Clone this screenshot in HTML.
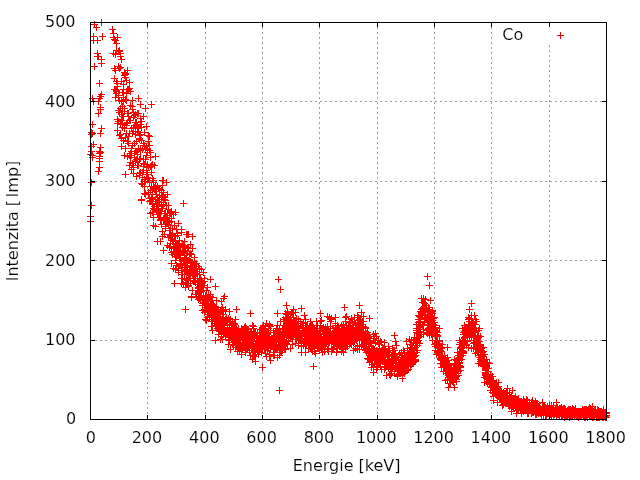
<!DOCTYPE html>
<html lang="cs"><head><meta charset="utf-8"><title>Co</title>
<style>
html,body{margin:0;padding:0;background:#fff;width:640px;height:480px;overflow:hidden}
svg{display:block;will-change:transform}
text{font-family:"DejaVu Sans","Liberation Sans",sans-serif;font-size:16px;fill:#000;stroke:#fff;stroke-width:0.15px}
</style></head><body>
<svg width="640" height="480" viewBox="0 0 640 480">
<rect width="640" height="480" fill="#fff"/>
<path d="M147.5 22V419M205.5 22V419M262.5 22V419M319.5 22V419M377.5 22V419M434.5 22V419M491.5 22V419M549.5 22V27M549.5 45V419M90 340.5H606M90 260.5H606M90 181.5H606M90 101.5H606" stroke="#a0a0a0" stroke-width="1" stroke-dasharray="2 3" fill="none" shape-rendering="crispEdges"/>
<path d="M91 24.5h7M94.5 21v7M93 27.5h7M96.5 24v7M98 22.5h7M101.5 19v7M90 36.5h7M93.5 33v7M99 36.5h7M102.5 33v7M90 40.5h7M93.5 37v7M94 40.5h7M97.5 37v7M94 53.5h7M97.5 50v7M94 56.5h7M97.5 53v7M95 56.5h7M98.5 53v7M98 59.5h7M101.5 56v7M98 63.5h7M101.5 60v7M91 66.5h7M94.5 63v7M96 83.5h7M99.5 80v7M98 94.5h7M101.5 91v7M97 96.5h7M100.5 93v7M96 98.5h7M99.5 95v7M95 101.5h7M98.5 98v7M89 98.5h7M92.5 95v7M90 101.5h7M93.5 98v7M97 107.5h7M100.5 104v7M97 109.5h7M100.5 106v7M95 113.5h7M98.5 110v7M89 124.5h7M92.5 121v7M98 128.5h7M101.5 125v7M97 133.5h7M100.5 130v7M88 132.5h7M91.5 129v7M89 133.5h7M92.5 130v7M88 134.5h7M91.5 131v7M90 144.5h7M93.5 141v7M88 146.5h7M91.5 143v7M97 147.5h7M100.5 144v7M96 151.5h7M99.5 148v7M97 152.5h7M100.5 149v7M96 153.5h7M99.5 150v7M88 151.5h7M91.5 148v7M87 154.5h7M90.5 151v7M89 155.5h7M92.5 152v7M96 156.5h7M99.5 153v7M96 158.5h7M99.5 155v7M96 161.5h7M99.5 158v7M96 167.5h7M99.5 164v7M89 157.5h7M92.5 154v7M95 171.5h7M98.5 168v7M88 182.5h7M91.5 179v7M88 205.5h7M91.5 202v7M87 216.5h7M90.5 213v7M87 221.5h7M90.5 218v7M109 29.5h7M112.5 26v7M110 33.5h7M113.5 30v7M110 37.5h7M113.5 34v7M110 53.5h7M113.5 50v7M111 89.5h7M114.5 86v7M111 78.5h7M114.5 75v7M111 68.5h7M114.5 65v7M111 39.5h7M114.5 36v7M112 97.5h7M115.5 94v7M112 54.5h7M115.5 51v7M112 70.5h7M115.5 67v7M112 40.5h7M115.5 37v7M112 89.5h7M115.5 86v7M112 54.5h7M115.5 51v7M113 93.5h7M116.5 90v7M113 91.5h7M116.5 88v7M113 90.5h7M116.5 87v7M113 50.5h7M116.5 47v7M113 81.5h7M116.5 78v7M113 43.5h7M116.5 40v7M114 83.5h7M117.5 80v7M114 119.5h7M117.5 116v7M114 123.5h7M117.5 120v7M114 86.5h7M117.5 83v7M114 130.5h7M117.5 127v7M114 37.5h7M117.5 34v7M115 97.5h7M118.5 94v7M115 66.5h7M118.5 63v7M115 110.5h7M118.5 107v7M115 51.5h7M118.5 48v7M115 121.5h7M118.5 118v7M115 95.5h7M118.5 92v7M116 100.5h7M119.5 97v7M116 51.5h7M119.5 48v7M116 135.5h7M119.5 132v7M116 50.5h7M119.5 47v7M116 112.5h7M119.5 109v7M116 68.5h7M119.5 65v7M117 108.5h7M120.5 105v7M117 56.5h7M120.5 53v7M117 124.5h7M120.5 121v7M117 53.5h7M120.5 50v7M117 134.5h7M120.5 131v7M117 67.5h7M120.5 64v7M118 114.5h7M121.5 111v7M118 81.5h7M121.5 78v7M118 120.5h7M121.5 117v7M118 101.5h7M121.5 98v7M118 138.5h7M121.5 135v7M118 59.5h7M121.5 56v7M119 124.5h7M122.5 121v7M119 92.5h7M122.5 89v7M119 127.5h7M122.5 124v7M119 106.5h7M122.5 103v7M119 116.5h7M122.5 113v7M119 108.5h7M122.5 105v7M120 140.5h7M123.5 137v7M120 101.5h7M123.5 98v7M120 97.5h7M123.5 94v7M120 89.5h7M123.5 86v7M120 116.5h7M123.5 113v7M120 84.5h7M123.5 81v7M121 128.5h7M124.5 125v7M121 108.5h7M124.5 105v7M121 111.5h7M124.5 108v7M121 75.5h7M124.5 72v7M121 155.5h7M124.5 152v7M121 72.5h7M124.5 69v7M122 137.5h7M125.5 134v7M122 74.5h7M125.5 71v7M122 148.5h7M125.5 145v7M122 73.5h7M125.5 70v7M122 99.5h7M125.5 96v7M122 77.5h7M125.5 74v7M123 125.5h7M126.5 122v7M123 80.5h7M126.5 77v7M123 123.5h7M126.5 120v7M123 100.5h7M126.5 97v7M123 133.5h7M126.5 130v7M123 93.5h7M126.5 90v7M124 141.5h7M127.5 138v7M124 70.5h7M127.5 67v7M124 156.5h7M127.5 153v7M124 89.5h7M127.5 86v7M124 113.5h7M127.5 110v7M124 122.5h7M127.5 119v7M125 136.5h7M128.5 133v7M125 89.5h7M128.5 86v7M125 116.5h7M128.5 113v7M125 89.5h7M128.5 86v7M125 143.5h7M128.5 140v7M125 113.5h7M128.5 110v7M126 133.5h7M129.5 130v7M126 82.5h7M129.5 79v7M126 155.5h7M129.5 152v7M126 120.5h7M129.5 117v7M126 165.5h7M129.5 162v7M126 88.5h7M129.5 85v7M127 162.5h7M130.5 159v7M127 120.5h7M130.5 117v7M127 157.5h7M130.5 154v7M127 105.5h7M130.5 102v7M127 153.5h7M130.5 150v7M127 91.5h7M130.5 88v7M128 169.5h7M131.5 166v7M128 128.5h7M131.5 125v7M128 151.5h7M131.5 148v7M128 155.5h7M131.5 152v7M128 148.5h7M131.5 145v7M128 128.5h7M131.5 125v7M129 133.5h7M132.5 130v7M129 100.5h7M132.5 97v7M129 145.5h7M132.5 142v7M129 109.5h7M132.5 106v7M129 163.5h7M132.5 160v7M129 106.5h7M132.5 103v7M130 131.5h7M133.5 128v7M130 127.5h7M133.5 124v7M130 173.5h7M133.5 170v7M130 117.5h7M133.5 114v7M130 167.5h7M133.5 164v7M130 112.5h7M133.5 109v7M131 125.5h7M134.5 122v7M131 125.5h7M134.5 122v7M131 143.5h7M134.5 140v7M131 115.5h7M134.5 112v7M131 157.5h7M134.5 154v7M131 153.5h7M134.5 150v7M132 161.5h7M135.5 158v7M132 114.5h7M135.5 111v7M132 151.5h7M135.5 148v7M132 122.5h7M135.5 119v7M132 134.5h7M135.5 131v7M132 128.5h7M135.5 125v7M133 159.5h7M136.5 156v7M133 122.5h7M136.5 119v7M133 176.5h7M136.5 173v7M133 141.5h7M136.5 138v7M133 151.5h7M136.5 148v7M133 125.5h7M136.5 122v7M134 165.5h7M137.5 162v7M134 113.5h7M137.5 110v7M134 158.5h7M137.5 155v7M134 126.5h7M137.5 123v7M134 154.5h7M137.5 151v7M134 131.5h7M137.5 128v7M135 165.5h7M138.5 162v7M135 113.5h7M138.5 110v7M135 149.5h7M138.5 146v7M135 132.5h7M138.5 129v7M135 148.5h7M138.5 145v7M135 128.5h7M138.5 125v7M136 159.5h7M139.5 156v7M136 135.5h7M139.5 132v7M136 175.5h7M139.5 172v7M136 139.5h7M139.5 136v7M136 173.5h7M139.5 170v7M136 138.5h7M139.5 135v7M137 148.5h7M140.5 145v7M137 124.5h7M140.5 121v7M137 150.5h7M140.5 147v7M137 134.5h7M140.5 131v7M137 172.5h7M140.5 169v7M137 118.5h7M140.5 115v7M137 158.5h7M140.5 155v7M138 140.5h7M141.5 137v7M138 183.5h7M141.5 180v7M138 127.5h7M141.5 124v7M138 200.5h7M141.5 197v7M138 121.5h7M141.5 118v7M138 199.5h7M141.5 196v7M139 149.5h7M142.5 146v7M139 177.5h7M142.5 174v7M139 149.5h7M142.5 146v7M139 172.5h7M142.5 169v7M139 148.5h7M142.5 145v7M139 184.5h7M142.5 181v7M140 143.5h7M143.5 140v7M140 166.5h7M143.5 163v7M140 159.5h7M143.5 156v7M140 163.5h7M143.5 160v7M140 116.5h7M143.5 113v7M140 170.5h7M143.5 167v7M141 132.5h7M144.5 129v7M141 186.5h7M144.5 183v7M141 145.5h7M144.5 142v7M141 179.5h7M144.5 176v7M141 164.5h7M144.5 161v7M141 193.5h7M144.5 190v7M142 108.5h7M145.5 105v7M142 193.5h7M145.5 190v7M142 149.5h7M145.5 146v7M142 181.5h7M145.5 178v7M142 159.5h7M145.5 156v7M142 194.5h7M145.5 191v7M143 155.5h7M146.5 152v7M143 167.5h7M146.5 164v7M143 126.5h7M146.5 123v7M143 174.5h7M146.5 171v7M143 146.5h7M146.5 143v7M143 170.5h7M146.5 167v7M144 174.5h7M147.5 171v7M144 178.5h7M147.5 175v7M144 148.5h7M147.5 145v7M144 152.5h7M147.5 149v7M144 164.5h7M147.5 161v7M144 177.5h7M147.5 174v7M145 141.5h7M148.5 138v7M145 192.5h7M148.5 189v7M145 178.5h7M148.5 175v7M145 194.5h7M148.5 191v7M145 135.5h7M148.5 132v7M145 167.5h7M148.5 164v7M146 145.5h7M149.5 142v7M146 198.5h7M149.5 195v7M146 150.5h7M149.5 147v7M146 201.5h7M149.5 198v7M146 136.5h7M149.5 133v7M146 182.5h7M149.5 179v7M147 152.5h7M150.5 149v7M147 190.5h7M150.5 187v7M147 166.5h7M150.5 163v7M147 213.5h7M150.5 210v7M147 157.5h7M150.5 154v7M147 200.5h7M150.5 197v7M148 172.5h7M151.5 169v7M148 201.5h7M151.5 198v7M148 166.5h7M151.5 163v7M148 198.5h7M151.5 195v7M148 165.5h7M151.5 162v7M148 186.5h7M151.5 183v7M149 164.5h7M152.5 161v7M149 197.5h7M152.5 194v7M149 178.5h7M152.5 175v7M149 204.5h7M152.5 201v7M149 190.5h7M152.5 187v7M149 212.5h7M152.5 209v7M150 180.5h7M153.5 177v7M150 208.5h7M153.5 205v7M150 180.5h7M153.5 177v7M150 217.5h7M153.5 214v7M150 182.5h7M153.5 179v7M150 225.5h7M153.5 222v7M151 165.5h7M154.5 162v7M151 206.5h7M154.5 203v7M151 209.5h7M154.5 206v7M151 189.5h7M154.5 186v7M151 187.5h7M154.5 184v7M151 209.5h7M154.5 206v7M152 191.5h7M155.5 188v7M152 226.5h7M155.5 223v7M152 156.5h7M155.5 153v7M152 199.5h7M155.5 196v7M152 186.5h7M155.5 183v7M152 201.5h7M155.5 198v7M153 188.5h7M156.5 185v7M153 203.5h7M156.5 200v7M153 206.5h7M156.5 203v7M153 194.5h7M156.5 191v7M153 191.5h7M156.5 188v7M153 211.5h7M156.5 208v7M154 199.5h7M157.5 196v7M154 201.5h7M157.5 198v7M154 214.5h7M157.5 211v7M154 186.5h7M157.5 183v7M154 206.5h7M157.5 203v7M154 241.5h7M157.5 238v7M155 209.5h7M158.5 206v7M155 188.5h7M158.5 185v7M155 212.5h7M158.5 209v7M155 210.5h7M158.5 207v7M155 201.5h7M158.5 198v7M155 217.5h7M158.5 214v7M156 189.5h7M159.5 186v7M156 199.5h7M159.5 196v7M156 188.5h7M159.5 185v7M156 195.5h7M159.5 192v7M156 202.5h7M159.5 199v7M156 213.5h7M159.5 210v7M156 217.5h7M159.5 214v7M157 241.5h7M160.5 238v7M157 219.5h7M160.5 216v7M157 219.5h7M160.5 216v7M157 211.5h7M160.5 208v7M157 220.5h7M160.5 217v7M157 213.5h7M160.5 210v7M158 205.5h7M161.5 202v7M158 211.5h7M161.5 208v7M158 224.5h7M161.5 221v7M158 206.5h7M161.5 203v7M158 190.5h7M161.5 187v7M158 197.5h7M161.5 194v7M159 208.5h7M162.5 205v7M159 185.5h7M162.5 182v7M159 236.5h7M162.5 233v7M159 180.5h7M162.5 177v7M159 195.5h7M162.5 192v7M159 231.5h7M162.5 228v7M160 218.5h7M163.5 215v7M160 197.5h7M163.5 194v7M160 204.5h7M163.5 201v7M160 196.5h7M163.5 193v7M160 219.5h7M163.5 216v7M160 180.5h7M163.5 177v7M160 192.5h7M163.5 189v7M161 213.5h7M164.5 210v7M161 219.5h7M164.5 216v7M161 213.5h7M164.5 210v7M161 234.5h7M164.5 231v7M161 199.5h7M164.5 196v7M161 213.5h7M164.5 210v7M162 220.5h7M165.5 217v7M162 228.5h7M165.5 225v7M162 200.5h7M165.5 197v7M162 226.5h7M165.5 223v7M162 224.5h7M165.5 221v7M162 213.5h7M165.5 210v7M163 220.5h7M166.5 217v7M163 217.5h7M166.5 214v7M163 218.5h7M166.5 215v7M163 217.5h7M166.5 214v7M163 205.5h7M166.5 202v7M163 182.5h7M166.5 179v7M163 223.5h7M166.5 220v7M164 194.5h7M167.5 191v7M164 213.5h7M167.5 210v7M164 215.5h7M167.5 212v7M164 221.5h7M167.5 218v7M164 245.5h7M167.5 242v7M164 222.5h7M167.5 219v7M165 225.5h7M168.5 222v7M165 209.5h7M168.5 206v7M165 205.5h7M168.5 202v7M165 237.5h7M168.5 234v7M165 220.5h7M168.5 217v7M165 224.5h7M168.5 221v7M166 246.5h7M169.5 243v7M166 213.5h7M169.5 210v7M166 222.5h7M169.5 219v7M166 230.5h7M169.5 227v7M166 222.5h7M169.5 219v7M166 247.5h7M169.5 244v7M166 221.5h7M169.5 218v7M167 213.5h7M170.5 210v7M167 243.5h7M170.5 240v7M167 236.5h7M170.5 233v7M167 235.5h7M170.5 232v7M167 228.5h7M170.5 225v7M167 234.5h7M170.5 231v7M168 221.5h7M171.5 218v7M168 218.5h7M171.5 215v7M168 238.5h7M171.5 235v7M168 211.5h7M171.5 208v7M168 252.5h7M171.5 249v7M168 263.5h7M171.5 260v7M168 235.5h7M171.5 232v7M169 254.5h7M172.5 251v7M169 240.5h7M172.5 237v7M169 235.5h7M172.5 232v7M169 236.5h7M172.5 233v7M169 228.5h7M172.5 225v7M169 233.5h7M172.5 230v7M170 243.5h7M173.5 240v7M170 241.5h7M173.5 238v7M170 246.5h7M173.5 243v7M170 268.5h7M173.5 265v7M170 248.5h7M173.5 245v7M170 251.5h7M173.5 248v7M170 214.5h7M173.5 211v7M171 247.5h7M174.5 244v7M171 253.5h7M174.5 250v7M171 254.5h7M174.5 251v7M171 252.5h7M174.5 249v7M171 225.5h7M174.5 222v7M171 236.5h7M174.5 233v7M172 251.5h7M175.5 248v7M172 269.5h7M175.5 266v7M172 244.5h7M175.5 241v7M172 236.5h7M175.5 233v7M172 212.5h7M175.5 209v7M172 244.5h7M175.5 241v7M172 260.5h7M175.5 257v7M173 256.5h7M176.5 253v7M173 265.5h7M176.5 262v7M173 229.5h7M176.5 226v7M173 265.5h7M176.5 262v7M173 247.5h7M176.5 244v7M173 253.5h7M176.5 250v7M173 245.5h7M176.5 242v7M174 255.5h7M177.5 252v7M174 233.5h7M177.5 230v7M174 244.5h7M177.5 241v7M174 235.5h7M177.5 232v7M174 251.5h7M177.5 248v7M174 247.5h7M177.5 244v7M175 223.5h7M178.5 220v7M175 266.5h7M178.5 263v7M175 272.5h7M178.5 269v7M175 250.5h7M178.5 247v7M175 270.5h7M178.5 267v7M175 243.5h7M178.5 240v7M175 268.5h7M178.5 265v7M176 250.5h7M179.5 247v7M176 240.5h7M179.5 237v7M176 254.5h7M179.5 251v7M176 253.5h7M179.5 250v7M176 247.5h7M179.5 244v7M176 258.5h7M179.5 255v7M177 246.5h7M180.5 243v7M177 251.5h7M180.5 248v7M177 255.5h7M180.5 252v7M177 257.5h7M180.5 254v7M177 264.5h7M180.5 261v7M177 263.5h7M180.5 260v7M177 260.5h7M180.5 257v7M178 232.5h7M181.5 229v7M178 278.5h7M181.5 275v7M178 283.5h7M181.5 280v7M178 270.5h7M181.5 267v7M178 265.5h7M181.5 262v7M178 264.5h7M181.5 261v7M178 229.5h7M181.5 226v7M179 244.5h7M182.5 241v7M179 267.5h7M182.5 264v7M179 267.5h7M182.5 264v7M179 278.5h7M182.5 275v7M179 251.5h7M182.5 248v7M179 274.5h7M182.5 271v7M179 267.5h7M182.5 264v7M180 252.5h7M183.5 249v7M180 284.5h7M183.5 281v7M180 251.5h7M183.5 248v7M180 246.5h7M183.5 243v7M180 245.5h7M183.5 242v7M180 247.5h7M183.5 244v7M181 255.5h7M184.5 252v7M181 270.5h7M184.5 267v7M181 259.5h7M184.5 256v7M181 241.5h7M184.5 238v7M181 274.5h7M184.5 271v7M181 251.5h7M184.5 248v7M181 263.5h7M184.5 260v7M182 258.5h7M185.5 255v7M182 282.5h7M185.5 279v7M182 248.5h7M185.5 245v7M182 287.5h7M185.5 284v7M182 267.5h7M185.5 264v7M182 261.5h7M185.5 258v7M182 269.5h7M185.5 266v7M183 260.5h7M186.5 257v7M183 257.5h7M186.5 254v7M183 253.5h7M186.5 250v7M183 234.5h7M186.5 231v7M183 279.5h7M186.5 276v7M183 271.5h7M186.5 268v7M183 262.5h7M186.5 259v7M184 283.5h7M187.5 280v7M184 251.5h7M187.5 248v7M184 280.5h7M187.5 277v7M184 267.5h7M187.5 264v7M184 266.5h7M187.5 263v7M184 269.5h7M187.5 266v7M184 247.5h7M187.5 244v7M185 278.5h7M188.5 275v7M185 285.5h7M188.5 282v7M185 248.5h7M188.5 245v7M185 274.5h7M188.5 271v7M185 273.5h7M188.5 270v7M185 286.5h7M188.5 283v7M185 286.5h7M188.5 283v7M186 274.5h7M189.5 271v7M186 275.5h7M189.5 272v7M186 271.5h7M189.5 268v7M186 259.5h7M189.5 256v7M186 254.5h7M189.5 251v7M186 273.5h7M189.5 270v7M187 261.5h7M190.5 258v7M187 267.5h7M190.5 264v7M187 244.5h7M190.5 241v7M187 273.5h7M190.5 270v7M187 283.5h7M190.5 280v7M187 280.5h7M190.5 277v7M187 253.5h7M190.5 250v7M188 263.5h7M191.5 260v7M188 297.5h7M191.5 294v7M188 270.5h7M191.5 267v7M188 270.5h7M191.5 267v7M188 265.5h7M191.5 262v7M188 296.5h7M191.5 293v7M188 254.5h7M191.5 251v7M189 269.5h7M192.5 266v7M189 248.5h7M192.5 245v7M189 274.5h7M192.5 271v7M189 263.5h7M192.5 260v7M189 290.5h7M192.5 287v7M189 236.5h7M192.5 233v7M189 262.5h7M192.5 259v7M190 273.5h7M193.5 270v7M190 266.5h7M193.5 263v7M190 265.5h7M193.5 262v7M190 274.5h7M193.5 271v7M190 273.5h7M193.5 270v7M190 281.5h7M193.5 278v7M190 274.5h7M193.5 271v7M191 261.5h7M194.5 258v7M191 278.5h7M194.5 275v7M191 257.5h7M194.5 254v7M191 272.5h7M194.5 269v7M191 269.5h7M194.5 266v7M191 270.5h7M194.5 267v7M191 280.5h7M194.5 277v7M192 282.5h7M195.5 279v7M192 269.5h7M195.5 266v7M192 264.5h7M195.5 261v7M192 281.5h7M195.5 278v7M192 294.5h7M195.5 291v7M192 274.5h7M195.5 271v7M192 278.5h7M195.5 275v7M193 269.5h7M196.5 266v7M193 268.5h7M196.5 265v7M193 294.5h7M196.5 291v7M193 273.5h7M196.5 270v7M193 263.5h7M196.5 260v7M193 269.5h7M196.5 266v7M193 271.5h7M196.5 268v7M194 284.5h7M197.5 281v7M194 278.5h7M197.5 275v7M194 274.5h7M197.5 271v7M194 282.5h7M197.5 279v7M194 284.5h7M197.5 281v7M194 281.5h7M197.5 278v7M194 290.5h7M197.5 287v7M195 299.5h7M198.5 296v7M195 266.5h7M198.5 263v7M195 297.5h7M198.5 294v7M195 296.5h7M198.5 293v7M195 282.5h7M198.5 279v7M195 288.5h7M198.5 285v7M195 287.5h7M198.5 284v7M195 297.5h7M198.5 294v7M196 286.5h7M199.5 283v7M196 274.5h7M199.5 271v7M196 298.5h7M199.5 295v7M196 282.5h7M199.5 279v7M196 282.5h7M199.5 279v7M196 290.5h7M199.5 287v7M196 268.5h7M199.5 265v7M197 290.5h7M200.5 287v7M197 282.5h7M200.5 279v7M197 278.5h7M200.5 275v7M197 283.5h7M200.5 280v7M197 290.5h7M200.5 287v7M197 292.5h7M200.5 289v7M197 300.5h7M200.5 297v7M198 291.5h7M201.5 288v7M198 280.5h7M201.5 277v7M198 269.5h7M201.5 266v7M198 286.5h7M201.5 283v7M198 281.5h7M201.5 278v7M198 284.5h7M201.5 281v7M198 281.5h7M201.5 278v7M199 287.5h7M202.5 284v7M199 298.5h7M202.5 295v7M199 305.5h7M202.5 302v7M199 298.5h7M202.5 295v7M199 282.5h7M202.5 279v7M199 303.5h7M202.5 300v7M199 310.5h7M202.5 307v7M200 272.5h7M203.5 269v7M200 287.5h7M203.5 284v7M200 295.5h7M203.5 292v7M200 298.5h7M203.5 295v7M200 296.5h7M203.5 293v7M200 302.5h7M203.5 299v7M200 285.5h7M203.5 282v7M201 299.5h7M204.5 296v7M201 312.5h7M204.5 309v7M201 302.5h7M204.5 299v7M201 281.5h7M204.5 278v7M201 310.5h7M204.5 307v7M201 310.5h7M204.5 307v7M201 278.5h7M204.5 275v7M201 309.5h7M204.5 306v7M202 295.5h7M205.5 292v7M202 307.5h7M205.5 304v7M202 301.5h7M205.5 298v7M202 301.5h7M205.5 298v7M202 319.5h7M205.5 316v7M202 309.5h7M205.5 306v7M202 311.5h7M205.5 308v7M203 290.5h7M206.5 287v7M203 307.5h7M206.5 304v7M203 304.5h7M206.5 301v7M203 305.5h7M206.5 302v7M203 320.5h7M206.5 317v7M203 303.5h7M206.5 300v7M203 299.5h7M206.5 296v7M204 317.5h7M207.5 314v7M204 309.5h7M207.5 306v7M204 298.5h7M207.5 295v7M204 309.5h7M207.5 306v7M204 287.5h7M207.5 284v7M204 309.5h7M207.5 306v7M204 301.5h7M207.5 298v7M204 309.5h7M207.5 306v7M205 294.5h7M208.5 291v7M205 309.5h7M208.5 306v7M205 301.5h7M208.5 298v7M205 309.5h7M208.5 306v7M205 301.5h7M208.5 298v7M205 307.5h7M208.5 304v7M205 305.5h7M208.5 302v7M206 314.5h7M209.5 311v7M206 316.5h7M209.5 313v7M206 309.5h7M209.5 306v7M206 311.5h7M209.5 308v7M206 298.5h7M209.5 295v7M206 309.5h7M209.5 306v7M206 306.5h7M209.5 303v7M207 296.5h7M210.5 293v7M207 313.5h7M210.5 310v7M207 294.5h7M210.5 291v7M207 304.5h7M210.5 301v7M207 309.5h7M210.5 306v7M207 309.5h7M210.5 306v7M207 309.5h7M210.5 306v7M207 301.5h7M210.5 298v7M208 321.5h7M211.5 318v7M208 313.5h7M211.5 310v7M208 305.5h7M211.5 302v7M208 313.5h7M211.5 310v7M208 300.5h7M211.5 297v7M208 326.5h7M211.5 323v7M208 315.5h7M211.5 312v7M209 297.5h7M212.5 294v7M209 307.5h7M212.5 304v7M209 319.5h7M212.5 316v7M209 304.5h7M212.5 301v7M209 321.5h7M212.5 318v7M209 315.5h7M212.5 312v7M209 330.5h7M212.5 327v7M210 313.5h7M213.5 310v7M210 315.5h7M213.5 312v7M210 316.5h7M213.5 313v7M210 313.5h7M213.5 310v7M210 304.5h7M213.5 301v7M210 314.5h7M213.5 311v7M210 305.5h7M213.5 302v7M210 304.5h7M213.5 301v7M211 307.5h7M214.5 304v7M211 308.5h7M214.5 305v7M211 321.5h7M214.5 318v7M211 317.5h7M214.5 314v7M211 310.5h7M214.5 307v7M211 306.5h7M214.5 303v7M211 311.5h7M214.5 308v7M212 340.5h7M215.5 337v7M212 321.5h7M215.5 318v7M212 325.5h7M215.5 322v7M212 320.5h7M215.5 317v7M212 315.5h7M215.5 312v7M212 323.5h7M215.5 320v7M212 309.5h7M215.5 306v7M212 314.5h7M215.5 311v7M213 318.5h7M216.5 315v7M213 316.5h7M216.5 313v7M213 323.5h7M216.5 320v7M213 309.5h7M216.5 306v7M213 325.5h7M216.5 322v7M213 317.5h7M216.5 314v7M213 300.5h7M216.5 297v7M214 320.5h7M217.5 317v7M214 328.5h7M217.5 325v7M214 310.5h7M217.5 307v7M214 313.5h7M217.5 310v7M214 326.5h7M217.5 323v7M214 313.5h7M217.5 310v7M214 320.5h7M217.5 317v7M214 326.5h7M217.5 323v7M215 321.5h7M218.5 318v7M215 329.5h7M218.5 326v7M215 328.5h7M218.5 325v7M215 329.5h7M218.5 326v7M215 328.5h7M218.5 325v7M215 309.5h7M218.5 306v7M215 334.5h7M218.5 331v7M216 321.5h7M219.5 318v7M216 313.5h7M219.5 310v7M216 321.5h7M219.5 318v7M216 322.5h7M219.5 319v7M216 331.5h7M219.5 328v7M216 328.5h7M219.5 325v7M216 313.5h7M219.5 310v7M216 330.5h7M219.5 327v7M217 327.5h7M220.5 324v7M217 325.5h7M220.5 322v7M217 311.5h7M220.5 308v7M217 324.5h7M220.5 321v7M217 339.5h7M220.5 336v7M217 318.5h7M220.5 315v7M217 328.5h7M220.5 325v7M218 325.5h7M221.5 322v7M218 336.5h7M221.5 333v7M218 309.5h7M221.5 306v7M218 331.5h7M221.5 328v7M218 325.5h7M221.5 322v7M218 301.5h7M221.5 298v7M218 328.5h7M221.5 325v7M218 319.5h7M221.5 316v7M219 314.5h7M222.5 311v7M219 328.5h7M222.5 325v7M219 309.5h7M222.5 306v7M219 328.5h7M222.5 325v7M219 307.5h7M222.5 304v7M219 339.5h7M222.5 336v7M219 321.5h7M222.5 318v7M220 324.5h7M223.5 321v7M220 310.5h7M223.5 307v7M220 334.5h7M223.5 331v7M220 333.5h7M223.5 330v7M220 298.5h7M223.5 295v7M220 332.5h7M223.5 329v7M220 317.5h7M223.5 314v7M220 324.5h7M223.5 321v7M221 321.5h7M224.5 318v7M221 329.5h7M224.5 326v7M221 332.5h7M224.5 329v7M221 331.5h7M224.5 328v7M221 328.5h7M224.5 325v7M221 331.5h7M224.5 328v7M221 332.5h7M224.5 329v7M222 309.5h7M225.5 306v7M222 319.5h7M225.5 316v7M222 322.5h7M225.5 319v7M222 334.5h7M225.5 331v7M222 336.5h7M225.5 333v7M222 330.5h7M225.5 327v7M222 321.5h7M225.5 318v7M222 311.5h7M225.5 308v7M223 334.5h7M226.5 331v7M223 317.5h7M226.5 314v7M223 333.5h7M226.5 330v7M223 320.5h7M226.5 317v7M223 321.5h7M226.5 318v7M223 331.5h7M226.5 328v7M223 332.5h7M226.5 329v7M224 327.5h7M227.5 324v7M224 329.5h7M227.5 326v7M224 329.5h7M227.5 326v7M224 330.5h7M227.5 327v7M224 322.5h7M227.5 319v7M224 325.5h7M227.5 322v7M224 330.5h7M227.5 327v7M224 322.5h7M227.5 319v7M225 318.5h7M228.5 315v7M225 335.5h7M228.5 332v7M225 336.5h7M228.5 333v7M225 339.5h7M228.5 336v7M225 344.5h7M228.5 341v7M225 334.5h7M228.5 331v7M225 337.5h7M228.5 334v7M226 325.5h7M229.5 322v7M226 330.5h7M229.5 327v7M226 331.5h7M229.5 328v7M226 339.5h7M229.5 336v7M226 328.5h7M229.5 325v7M226 311.5h7M229.5 308v7M226 340.5h7M229.5 337v7M226 325.5h7M229.5 322v7M227 319.5h7M230.5 316v7M227 332.5h7M230.5 329v7M227 319.5h7M230.5 316v7M227 331.5h7M230.5 328v7M227 332.5h7M230.5 329v7M227 321.5h7M230.5 318v7M227 349.5h7M230.5 346v7M228 335.5h7M231.5 332v7M228 339.5h7M231.5 336v7M228 325.5h7M231.5 322v7M228 339.5h7M231.5 336v7M228 324.5h7M231.5 321v7M228 325.5h7M231.5 322v7M228 339.5h7M231.5 336v7M228 330.5h7M231.5 327v7M229 323.5h7M232.5 320v7M229 328.5h7M232.5 325v7M229 337.5h7M232.5 334v7M229 322.5h7M232.5 319v7M229 321.5h7M232.5 318v7M229 344.5h7M232.5 341v7M229 340.5h7M232.5 337v7M230 335.5h7M233.5 332v7M230 328.5h7M233.5 325v7M230 345.5h7M233.5 342v7M230 325.5h7M233.5 322v7M230 338.5h7M233.5 335v7M230 344.5h7M233.5 341v7M230 342.5h7M233.5 339v7M230 338.5h7M233.5 335v7M231 336.5h7M234.5 333v7M231 324.5h7M234.5 321v7M231 323.5h7M234.5 320v7M231 328.5h7M234.5 325v7M231 333.5h7M234.5 330v7M231 328.5h7M234.5 325v7M231 327.5h7M234.5 324v7M232 342.5h7M235.5 339v7M232 334.5h7M235.5 331v7M232 328.5h7M235.5 325v7M232 343.5h7M235.5 340v7M232 347.5h7M235.5 344v7M232 343.5h7M235.5 340v7M232 319.5h7M235.5 316v7M232 335.5h7M235.5 332v7M233 332.5h7M236.5 329v7M233 340.5h7M236.5 337v7M233 344.5h7M236.5 341v7M233 333.5h7M236.5 330v7M233 339.5h7M236.5 336v7M233 334.5h7M236.5 331v7M233 328.5h7M236.5 325v7M234 332.5h7M237.5 329v7M234 334.5h7M237.5 331v7M234 351.5h7M237.5 348v7M234 337.5h7M237.5 334v7M234 330.5h7M237.5 327v7M234 341.5h7M237.5 338v7M234 344.5h7M237.5 341v7M234 339.5h7M237.5 336v7M235 340.5h7M238.5 337v7M235 345.5h7M238.5 342v7M235 328.5h7M238.5 325v7M235 330.5h7M238.5 327v7M235 332.5h7M238.5 329v7M235 342.5h7M238.5 339v7M235 344.5h7M238.5 341v7M236 348.5h7M239.5 345v7M236 351.5h7M239.5 348v7M236 331.5h7M239.5 328v7M236 333.5h7M239.5 330v7M236 335.5h7M239.5 332v7M236 332.5h7M239.5 329v7M236 344.5h7M239.5 341v7M236 349.5h7M239.5 346v7M237 334.5h7M240.5 331v7M237 340.5h7M240.5 337v7M237 345.5h7M240.5 342v7M237 336.5h7M240.5 333v7M237 332.5h7M240.5 329v7M237 334.5h7M240.5 331v7M237 335.5h7M240.5 332v7M238 350.5h7M241.5 347v7M238 331.5h7M241.5 328v7M238 332.5h7M241.5 329v7M238 349.5h7M241.5 346v7M238 333.5h7M241.5 330v7M238 335.5h7M241.5 332v7M238 354.5h7M241.5 351v7M238 328.5h7M241.5 325v7M239 329.5h7M242.5 326v7M239 336.5h7M242.5 333v7M239 332.5h7M242.5 329v7M239 339.5h7M242.5 336v7M239 335.5h7M242.5 332v7M239 347.5h7M242.5 344v7M239 333.5h7M242.5 330v7M240 340.5h7M243.5 337v7M240 340.5h7M243.5 337v7M240 339.5h7M243.5 336v7M240 342.5h7M243.5 339v7M240 336.5h7M243.5 333v7M240 343.5h7M243.5 340v7M240 334.5h7M243.5 331v7M240 337.5h7M243.5 334v7M241 332.5h7M244.5 329v7M241 340.5h7M244.5 337v7M241 334.5h7M244.5 331v7M241 343.5h7M244.5 340v7M241 327.5h7M244.5 324v7M241 330.5h7M244.5 327v7M241 333.5h7M244.5 330v7M242 349.5h7M245.5 346v7M242 337.5h7M245.5 334v7M242 333.5h7M245.5 330v7M242 343.5h7M245.5 340v7M242 352.5h7M245.5 349v7M242 343.5h7M245.5 340v7M242 344.5h7M245.5 341v7M242 326.5h7M245.5 323v7M243 329.5h7M246.5 326v7M243 335.5h7M246.5 332v7M243 339.5h7M246.5 336v7M243 343.5h7M246.5 340v7M243 328.5h7M246.5 325v7M243 332.5h7M246.5 329v7M243 348.5h7M246.5 345v7M244 338.5h7M247.5 335v7M244 346.5h7M247.5 343v7M244 344.5h7M247.5 341v7M244 337.5h7M247.5 334v7M244 344.5h7M247.5 341v7M244 348.5h7M247.5 345v7M244 341.5h7M247.5 338v7M244 340.5h7M247.5 337v7M245 329.5h7M248.5 326v7M245 347.5h7M248.5 344v7M245 336.5h7M248.5 333v7M245 344.5h7M248.5 341v7M245 345.5h7M248.5 342v7M245 332.5h7M248.5 329v7M245 338.5h7M248.5 335v7M246 336.5h7M249.5 333v7M246 335.5h7M249.5 332v7M246 339.5h7M249.5 336v7M246 336.5h7M249.5 333v7M246 352.5h7M249.5 349v7M246 352.5h7M249.5 349v7M246 334.5h7M249.5 331v7M246 343.5h7M249.5 340v7M247 331.5h7M250.5 328v7M247 344.5h7M250.5 341v7M247 336.5h7M250.5 333v7M247 336.5h7M250.5 333v7M247 334.5h7M250.5 331v7M247 355.5h7M250.5 352v7M247 334.5h7M250.5 331v7M248 346.5h7M251.5 343v7M248 340.5h7M251.5 337v7M248 335.5h7M251.5 332v7M248 332.5h7M251.5 329v7M248 341.5h7M251.5 338v7M248 334.5h7M251.5 331v7M248 336.5h7M251.5 333v7M248 331.5h7M251.5 328v7M249 325.5h7M252.5 322v7M249 335.5h7M252.5 332v7M249 343.5h7M252.5 340v7M249 359.5h7M252.5 356v7M249 352.5h7M252.5 349v7M249 348.5h7M252.5 345v7M249 345.5h7M252.5 342v7M250 326.5h7M253.5 323v7M250 337.5h7M253.5 334v7M250 332.5h7M253.5 329v7M250 355.5h7M253.5 352v7M250 350.5h7M253.5 347v7M250 328.5h7M253.5 325v7M250 343.5h7M253.5 340v7M250 335.5h7M253.5 332v7M251 332.5h7M254.5 329v7M251 346.5h7M254.5 343v7M251 351.5h7M254.5 348v7M251 356.5h7M254.5 353v7M251 336.5h7M254.5 333v7M251 336.5h7M254.5 333v7M251 332.5h7M254.5 329v7M252 332.5h7M255.5 329v7M252 361.5h7M255.5 358v7M252 344.5h7M255.5 341v7M252 350.5h7M255.5 347v7M252 335.5h7M255.5 332v7M252 335.5h7M255.5 332v7M252 352.5h7M255.5 349v7M252 356.5h7M255.5 353v7M253 344.5h7M256.5 341v7M253 347.5h7M256.5 344v7M253 337.5h7M256.5 334v7M253 349.5h7M256.5 346v7M253 343.5h7M256.5 340v7M253 347.5h7M256.5 344v7M253 344.5h7M256.5 341v7M254 343.5h7M257.5 340v7M254 337.5h7M257.5 334v7M254 351.5h7M257.5 348v7M254 340.5h7M257.5 337v7M254 343.5h7M257.5 340v7M254 344.5h7M257.5 341v7M254 332.5h7M257.5 329v7M254 332.5h7M257.5 329v7M255 347.5h7M258.5 344v7M255 345.5h7M258.5 342v7M255 345.5h7M258.5 342v7M255 340.5h7M258.5 337v7M255 348.5h7M258.5 345v7M255 348.5h7M258.5 345v7M255 354.5h7M258.5 351v7M256 351.5h7M259.5 348v7M256 339.5h7M259.5 336v7M256 344.5h7M259.5 341v7M256 341.5h7M259.5 338v7M256 335.5h7M259.5 332v7M256 333.5h7M259.5 330v7M256 338.5h7M259.5 335v7M256 343.5h7M259.5 340v7M257 335.5h7M260.5 332v7M257 349.5h7M260.5 346v7M257 340.5h7M260.5 337v7M257 333.5h7M260.5 330v7M257 329.5h7M260.5 326v7M257 335.5h7M260.5 332v7M257 342.5h7M260.5 339v7M258 336.5h7M261.5 333v7M258 352.5h7M261.5 349v7M258 338.5h7M261.5 335v7M258 329.5h7M261.5 326v7M258 348.5h7M261.5 345v7M258 336.5h7M261.5 333v7M258 342.5h7M261.5 339v7M258 340.5h7M261.5 337v7M259 335.5h7M262.5 332v7M259 337.5h7M262.5 334v7M259 327.5h7M262.5 324v7M259 328.5h7M262.5 325v7M259 340.5h7M262.5 337v7M259 346.5h7M262.5 343v7M259 349.5h7M262.5 346v7M260 342.5h7M263.5 339v7M260 345.5h7M263.5 342v7M260 340.5h7M263.5 337v7M260 340.5h7M263.5 337v7M260 340.5h7M263.5 337v7M260 345.5h7M263.5 342v7M260 325.5h7M263.5 322v7M260 332.5h7M263.5 329v7M261 334.5h7M264.5 331v7M261 330.5h7M264.5 327v7M261 344.5h7M264.5 341v7M261 349.5h7M264.5 346v7M261 348.5h7M264.5 345v7M261 335.5h7M264.5 332v7M261 336.5h7M264.5 333v7M262 353.5h7M265.5 350v7M262 326.5h7M265.5 323v7M262 329.5h7M265.5 326v7M262 331.5h7M265.5 328v7M262 340.5h7M265.5 337v7M262 337.5h7M265.5 334v7M262 338.5h7M265.5 335v7M262 341.5h7M265.5 338v7M263 333.5h7M266.5 330v7M263 356.5h7M266.5 353v7M263 342.5h7M266.5 339v7M263 332.5h7M266.5 329v7M263 344.5h7M266.5 341v7M263 323.5h7M266.5 320v7M263 340.5h7M266.5 337v7M264 334.5h7M267.5 331v7M264 344.5h7M267.5 341v7M264 332.5h7M267.5 329v7M264 339.5h7M267.5 336v7M264 336.5h7M267.5 333v7M264 350.5h7M267.5 347v7M264 347.5h7M267.5 344v7M264 343.5h7M267.5 340v7M265 328.5h7M268.5 325v7M265 344.5h7M268.5 341v7M265 332.5h7M268.5 329v7M265 340.5h7M268.5 337v7M265 342.5h7M268.5 339v7M265 348.5h7M268.5 345v7M265 344.5h7M268.5 341v7M266 344.5h7M269.5 341v7M266 354.5h7M269.5 351v7M266 338.5h7M269.5 335v7M266 343.5h7M269.5 340v7M266 339.5h7M269.5 336v7M266 356.5h7M269.5 353v7M266 324.5h7M269.5 321v7M266 325.5h7M269.5 322v7M267 344.5h7M270.5 341v7M267 326.5h7M270.5 323v7M267 348.5h7M270.5 345v7M267 341.5h7M270.5 338v7M267 330.5h7M270.5 327v7M267 360.5h7M270.5 357v7M267 339.5h7M270.5 336v7M268 342.5h7M271.5 339v7M268 338.5h7M271.5 335v7M268 345.5h7M271.5 342v7M268 341.5h7M271.5 338v7M268 345.5h7M271.5 342v7M268 342.5h7M271.5 339v7M268 342.5h7M271.5 339v7M268 342.5h7M271.5 339v7M269 345.5h7M272.5 342v7M269 340.5h7M272.5 337v7M269 345.5h7M272.5 342v7M269 345.5h7M272.5 342v7M269 339.5h7M272.5 336v7M269 339.5h7M272.5 336v7M269 343.5h7M272.5 340v7M270 342.5h7M273.5 339v7M270 332.5h7M273.5 329v7M270 349.5h7M273.5 346v7M270 339.5h7M273.5 336v7M270 344.5h7M273.5 341v7M270 352.5h7M273.5 349v7M270 355.5h7M273.5 352v7M270 352.5h7M273.5 349v7M271 345.5h7M274.5 342v7M271 355.5h7M274.5 352v7M271 337.5h7M274.5 334v7M271 336.5h7M274.5 333v7M271 336.5h7M274.5 333v7M271 335.5h7M274.5 332v7M271 348.5h7M274.5 345v7M272 348.5h7M275.5 345v7M272 346.5h7M275.5 343v7M272 332.5h7M275.5 329v7M272 342.5h7M275.5 339v7M272 332.5h7M275.5 329v7M272 342.5h7M275.5 339v7M272 336.5h7M275.5 333v7M272 340.5h7M275.5 337v7M273 331.5h7M276.5 328v7M273 341.5h7M276.5 338v7M273 344.5h7M276.5 341v7M273 328.5h7M276.5 325v7M273 332.5h7M276.5 329v7M273 344.5h7M276.5 341v7M273 348.5h7M276.5 345v7M274 349.5h7M277.5 346v7M274 313.5h7M277.5 310v7M274 357.5h7M277.5 354v7M274 325.5h7M277.5 322v7M274 336.5h7M277.5 333v7M274 348.5h7M277.5 345v7M274 336.5h7M277.5 333v7M274 330.5h7M277.5 327v7M275 347.5h7M278.5 344v7M275 336.5h7M278.5 333v7M275 344.5h7M278.5 341v7M275 341.5h7M278.5 338v7M275 340.5h7M278.5 337v7M275 337.5h7M278.5 334v7M275 340.5h7M278.5 337v7M276 340.5h7M279.5 337v7M276 348.5h7M279.5 345v7M276 329.5h7M279.5 326v7M276 338.5h7M279.5 335v7M276 334.5h7M279.5 331v7M276 345.5h7M279.5 342v7M276 340.5h7M279.5 337v7M276 355.5h7M279.5 352v7M277 337.5h7M280.5 334v7M277 352.5h7M280.5 349v7M277 337.5h7M280.5 334v7M277 341.5h7M280.5 338v7M277 333.5h7M280.5 330v7M277 349.5h7M280.5 346v7M277 321.5h7M280.5 318v7M278 340.5h7M281.5 337v7M278 342.5h7M281.5 339v7M278 345.5h7M281.5 342v7M278 352.5h7M281.5 349v7M278 341.5h7M281.5 338v7M278 336.5h7M281.5 333v7M278 343.5h7M281.5 340v7M278 342.5h7M281.5 339v7M279 331.5h7M282.5 328v7M279 340.5h7M282.5 337v7M279 349.5h7M282.5 346v7M279 350.5h7M282.5 347v7M279 347.5h7M282.5 344v7M279 337.5h7M282.5 334v7M279 328.5h7M282.5 325v7M280 333.5h7M283.5 330v7M280 332.5h7M283.5 329v7M280 319.5h7M283.5 316v7M280 345.5h7M283.5 342v7M280 325.5h7M283.5 322v7M280 329.5h7M283.5 326v7M280 339.5h7M283.5 336v7M280 346.5h7M283.5 343v7M281 337.5h7M284.5 334v7M281 334.5h7M284.5 331v7M281 321.5h7M284.5 318v7M281 348.5h7M284.5 345v7M281 325.5h7M284.5 322v7M281 334.5h7M284.5 331v7M281 328.5h7M284.5 325v7M282 325.5h7M285.5 322v7M282 349.5h7M285.5 346v7M282 331.5h7M285.5 328v7M282 344.5h7M285.5 341v7M282 334.5h7M285.5 331v7M282 317.5h7M285.5 314v7M282 313.5h7M285.5 310v7M282 330.5h7M285.5 327v7M283 340.5h7M286.5 337v7M283 324.5h7M286.5 321v7M283 314.5h7M286.5 311v7M283 343.5h7M286.5 340v7M283 319.5h7M286.5 316v7M283 327.5h7M286.5 324v7M283 337.5h7M286.5 334v7M284 320.5h7M287.5 317v7M284 318.5h7M287.5 315v7M284 335.5h7M287.5 332v7M284 344.5h7M287.5 341v7M284 325.5h7M287.5 322v7M284 332.5h7M287.5 329v7M284 311.5h7M287.5 308v7M284 322.5h7M287.5 319v7M285 321.5h7M288.5 318v7M285 328.5h7M288.5 325v7M285 341.5h7M288.5 338v7M285 317.5h7M288.5 314v7M285 334.5h7M288.5 331v7M285 321.5h7M288.5 318v7M285 327.5h7M288.5 324v7M286 325.5h7M289.5 322v7M286 328.5h7M289.5 325v7M286 321.5h7M289.5 318v7M286 319.5h7M289.5 316v7M286 321.5h7M289.5 318v7M286 334.5h7M289.5 331v7M286 329.5h7M289.5 326v7M286 325.5h7M289.5 322v7M287 320.5h7M290.5 317v7M287 317.5h7M290.5 314v7M287 338.5h7M290.5 335v7M287 335.5h7M290.5 332v7M287 322.5h7M290.5 319v7M287 348.5h7M290.5 345v7M287 331.5h7M290.5 328v7M288 330.5h7M291.5 327v7M288 325.5h7M291.5 322v7M288 321.5h7M291.5 318v7M288 332.5h7M291.5 329v7M288 326.5h7M291.5 323v7M288 328.5h7M291.5 325v7M288 336.5h7M291.5 333v7M288 312.5h7M291.5 309v7M289 313.5h7M292.5 310v7M289 325.5h7M292.5 322v7M289 344.5h7M292.5 341v7M289 335.5h7M292.5 332v7M289 331.5h7M292.5 328v7M289 325.5h7M292.5 322v7M289 337.5h7M292.5 334v7M290 317.5h7M293.5 314v7M290 309.5h7M293.5 306v7M290 331.5h7M293.5 328v7M290 330.5h7M293.5 327v7M290 330.5h7M293.5 327v7M290 335.5h7M293.5 332v7M290 330.5h7M293.5 327v7M290 330.5h7M293.5 327v7M291 321.5h7M294.5 318v7M291 332.5h7M294.5 329v7M291 333.5h7M294.5 330v7M291 324.5h7M294.5 321v7M291 332.5h7M294.5 329v7M291 329.5h7M294.5 326v7M291 328.5h7M294.5 325v7M292 332.5h7M295.5 329v7M292 336.5h7M295.5 333v7M292 312.5h7M295.5 309v7M292 332.5h7M295.5 329v7M292 329.5h7M295.5 326v7M292 343.5h7M295.5 340v7M292 323.5h7M295.5 320v7M292 331.5h7M295.5 328v7M293 336.5h7M296.5 333v7M293 321.5h7M296.5 318v7M293 331.5h7M296.5 328v7M293 318.5h7M296.5 315v7M293 333.5h7M296.5 330v7M293 335.5h7M296.5 332v7M293 339.5h7M296.5 336v7M294 325.5h7M297.5 322v7M294 332.5h7M297.5 329v7M294 328.5h7M297.5 325v7M294 336.5h7M297.5 333v7M294 335.5h7M297.5 332v7M294 327.5h7M297.5 324v7M294 326.5h7M297.5 323v7M294 332.5h7M297.5 329v7M295 339.5h7M298.5 336v7M295 321.5h7M298.5 318v7M295 345.5h7M298.5 342v7M295 332.5h7M298.5 329v7M295 336.5h7M298.5 333v7M295 325.5h7M298.5 322v7M295 319.5h7M298.5 316v7M296 333.5h7M299.5 330v7M296 332.5h7M299.5 329v7M296 331.5h7M299.5 328v7M296 330.5h7M299.5 327v7M296 336.5h7M299.5 333v7M296 331.5h7M299.5 328v7M296 336.5h7M299.5 333v7M296 340.5h7M299.5 337v7M297 323.5h7M300.5 320v7M297 336.5h7M300.5 333v7M297 338.5h7M300.5 335v7M297 321.5h7M300.5 318v7M297 340.5h7M300.5 337v7M297 340.5h7M300.5 337v7M297 323.5h7M300.5 320v7M298 325.5h7M301.5 322v7M298 342.5h7M301.5 339v7M298 325.5h7M301.5 322v7M298 342.5h7M301.5 339v7M298 345.5h7M301.5 342v7M298 335.5h7M301.5 332v7M298 352.5h7M301.5 349v7M298 346.5h7M301.5 343v7M299 338.5h7M302.5 335v7M299 327.5h7M302.5 324v7M299 338.5h7M302.5 335v7M299 340.5h7M302.5 337v7M299 327.5h7M302.5 324v7M299 325.5h7M302.5 322v7M299 331.5h7M302.5 328v7M300 342.5h7M303.5 339v7M300 322.5h7M303.5 319v7M300 323.5h7M303.5 320v7M300 328.5h7M303.5 325v7M300 328.5h7M303.5 325v7M300 332.5h7M303.5 329v7M300 345.5h7M303.5 342v7M300 327.5h7M303.5 324v7M301 334.5h7M304.5 331v7M301 333.5h7M304.5 330v7M301 330.5h7M304.5 327v7M301 335.5h7M304.5 332v7M301 340.5h7M304.5 337v7M301 343.5h7M304.5 340v7M301 315.5h7M304.5 312v7M302 332.5h7M305.5 329v7M302 332.5h7M305.5 329v7M302 345.5h7M305.5 342v7M302 336.5h7M305.5 333v7M302 330.5h7M305.5 327v7M302 319.5h7M305.5 316v7M302 327.5h7M305.5 324v7M302 352.5h7M305.5 349v7M303 333.5h7M306.5 330v7M303 338.5h7M306.5 335v7M303 345.5h7M306.5 342v7M303 343.5h7M306.5 340v7M303 327.5h7M306.5 324v7M303 330.5h7M306.5 327v7M303 338.5h7M306.5 335v7M304 328.5h7M307.5 325v7M304 325.5h7M307.5 322v7M304 342.5h7M307.5 339v7M304 338.5h7M307.5 335v7M304 325.5h7M307.5 322v7M304 341.5h7M307.5 338v7M304 333.5h7M307.5 330v7M304 340.5h7M307.5 337v7M305 332.5h7M308.5 329v7M305 344.5h7M308.5 341v7M305 343.5h7M308.5 340v7M305 336.5h7M308.5 333v7M305 329.5h7M308.5 326v7M305 348.5h7M308.5 345v7M305 338.5h7M308.5 335v7M306 342.5h7M309.5 339v7M306 329.5h7M309.5 326v7M306 340.5h7M309.5 337v7M306 326.5h7M309.5 323v7M306 345.5h7M309.5 342v7M306 340.5h7M309.5 337v7M306 338.5h7M309.5 335v7M306 343.5h7M309.5 340v7M307 341.5h7M310.5 338v7M307 328.5h7M310.5 325v7M307 332.5h7M310.5 329v7M307 332.5h7M310.5 329v7M307 348.5h7M310.5 345v7M307 321.5h7M310.5 318v7M307 335.5h7M310.5 332v7M308 347.5h7M311.5 344v7M308 329.5h7M311.5 326v7M308 349.5h7M311.5 346v7M308 335.5h7M311.5 332v7M308 325.5h7M311.5 322v7M308 346.5h7M311.5 343v7M308 345.5h7M311.5 342v7M308 342.5h7M311.5 339v7M309 334.5h7M312.5 331v7M309 328.5h7M312.5 325v7M309 333.5h7M312.5 330v7M309 351.5h7M312.5 348v7M309 325.5h7M312.5 322v7M309 338.5h7M312.5 335v7M309 332.5h7M312.5 329v7M310 341.5h7M313.5 338v7M310 341.5h7M313.5 338v7M310 330.5h7M313.5 327v7M310 341.5h7M313.5 338v7M310 366.5h7M313.5 363v7M310 339.5h7M313.5 336v7M310 327.5h7M313.5 324v7M310 338.5h7M313.5 335v7M311 351.5h7M314.5 348v7M311 337.5h7M314.5 334v7M311 328.5h7M314.5 325v7M311 328.5h7M314.5 325v7M311 337.5h7M314.5 334v7M311 334.5h7M314.5 331v7M311 346.5h7M314.5 343v7M312 330.5h7M315.5 327v7M312 353.5h7M315.5 350v7M312 335.5h7M315.5 332v7M312 332.5h7M315.5 329v7M312 332.5h7M315.5 329v7M312 344.5h7M315.5 341v7M312 340.5h7M315.5 337v7M312 333.5h7M315.5 330v7M313 333.5h7M316.5 330v7M313 338.5h7M316.5 335v7M313 340.5h7M316.5 337v7M313 325.5h7M316.5 322v7M313 332.5h7M316.5 329v7M313 321.5h7M316.5 318v7M313 335.5h7M316.5 332v7M314 340.5h7M317.5 337v7M314 341.5h7M317.5 338v7M314 325.5h7M317.5 322v7M314 333.5h7M317.5 330v7M314 347.5h7M317.5 344v7M314 339.5h7M317.5 336v7M314 332.5h7M317.5 329v7M314 336.5h7M317.5 333v7M315 341.5h7M318.5 338v7M315 336.5h7M318.5 333v7M315 344.5h7M318.5 341v7M315 345.5h7M318.5 342v7M315 336.5h7M318.5 333v7M315 343.5h7M318.5 340v7M315 348.5h7M318.5 345v7M316 331.5h7M319.5 328v7M316 337.5h7M319.5 334v7M316 350.5h7M319.5 347v7M316 344.5h7M319.5 341v7M316 342.5h7M319.5 339v7M316 340.5h7M319.5 337v7M316 328.5h7M319.5 325v7M316 340.5h7M319.5 337v7M317 340.5h7M320.5 337v7M317 328.5h7M320.5 325v7M317 313.5h7M320.5 310v7M317 334.5h7M320.5 331v7M317 345.5h7M320.5 342v7M317 321.5h7M320.5 318v7M317 325.5h7M320.5 322v7M318 342.5h7M321.5 339v7M318 328.5h7M321.5 325v7M318 320.5h7M321.5 317v7M318 344.5h7M321.5 341v7M318 348.5h7M321.5 345v7M318 336.5h7M321.5 333v7M318 349.5h7M321.5 346v7M318 340.5h7M321.5 337v7M319 342.5h7M322.5 339v7M319 331.5h7M322.5 328v7M319 342.5h7M322.5 339v7M319 344.5h7M322.5 341v7M319 352.5h7M322.5 349v7M319 340.5h7M322.5 337v7M319 329.5h7M322.5 326v7M320 340.5h7M323.5 337v7M320 329.5h7M323.5 326v7M320 344.5h7M323.5 341v7M320 331.5h7M323.5 328v7M320 345.5h7M323.5 342v7M320 336.5h7M323.5 333v7M320 327.5h7M323.5 324v7M320 340.5h7M323.5 337v7M321 333.5h7M324.5 330v7M321 333.5h7M324.5 330v7M321 344.5h7M324.5 341v7M321 336.5h7M324.5 333v7M321 349.5h7M324.5 346v7M321 340.5h7M324.5 337v7M321 351.5h7M324.5 348v7M322 330.5h7M325.5 327v7M322 343.5h7M325.5 340v7M322 337.5h7M325.5 334v7M322 340.5h7M325.5 337v7M322 340.5h7M325.5 337v7M322 331.5h7M325.5 328v7M322 327.5h7M325.5 324v7M322 346.5h7M325.5 343v7M323 335.5h7M326.5 332v7M323 336.5h7M326.5 333v7M323 329.5h7M326.5 326v7M323 340.5h7M326.5 337v7M323 343.5h7M326.5 340v7M323 330.5h7M326.5 327v7M323 336.5h7M326.5 333v7M324 336.5h7M327.5 333v7M324 326.5h7M327.5 323v7M324 338.5h7M327.5 335v7M324 332.5h7M327.5 329v7M324 316.5h7M327.5 313v7M324 349.5h7M327.5 346v7M324 328.5h7M327.5 325v7M324 335.5h7M327.5 332v7M325 351.5h7M328.5 348v7M325 342.5h7M328.5 339v7M325 348.5h7M328.5 345v7M325 348.5h7M328.5 345v7M325 336.5h7M328.5 333v7M325 333.5h7M328.5 330v7M325 336.5h7M328.5 333v7M326 317.5h7M329.5 314v7M326 341.5h7M329.5 338v7M326 334.5h7M329.5 331v7M326 339.5h7M329.5 336v7M326 338.5h7M329.5 335v7M326 339.5h7M329.5 336v7M326 342.5h7M329.5 339v7M326 336.5h7M329.5 333v7M327 332.5h7M330.5 329v7M327 333.5h7M330.5 330v7M327 321.5h7M330.5 318v7M327 328.5h7M330.5 325v7M327 340.5h7M330.5 337v7M327 326.5h7M330.5 323v7M327 336.5h7M330.5 333v7M328 351.5h7M331.5 348v7M328 348.5h7M331.5 345v7M328 340.5h7M331.5 337v7M328 338.5h7M331.5 335v7M328 336.5h7M331.5 333v7M328 348.5h7M331.5 345v7M328 318.5h7M331.5 315v7M328 319.5h7M331.5 316v7M329 333.5h7M332.5 330v7M329 349.5h7M332.5 346v7M329 338.5h7M332.5 335v7M329 341.5h7M332.5 338v7M329 341.5h7M332.5 338v7M329 341.5h7M332.5 338v7M329 336.5h7M332.5 333v7M330 338.5h7M333.5 335v7M330 348.5h7M333.5 345v7M330 338.5h7M333.5 335v7M330 332.5h7M333.5 329v7M330 340.5h7M333.5 337v7M330 337.5h7M333.5 334v7M330 336.5h7M333.5 333v7M330 331.5h7M333.5 328v7M331 331.5h7M334.5 328v7M331 336.5h7M334.5 333v7M331 344.5h7M334.5 341v7M331 334.5h7M334.5 331v7M331 342.5h7M334.5 339v7M331 336.5h7M334.5 333v7M331 337.5h7M334.5 334v7M332 317.5h7M335.5 314v7M332 343.5h7M335.5 340v7M332 338.5h7M335.5 335v7M332 336.5h7M335.5 333v7M332 323.5h7M335.5 320v7M332 327.5h7M335.5 324v7M332 325.5h7M335.5 322v7M332 342.5h7M335.5 339v7M333 331.5h7M336.5 328v7M333 352.5h7M336.5 349v7M333 344.5h7M336.5 341v7M333 337.5h7M336.5 334v7M333 344.5h7M336.5 341v7M333 338.5h7M336.5 335v7M333 336.5h7M336.5 333v7M334 328.5h7M337.5 325v7M334 339.5h7M337.5 336v7M334 340.5h7M337.5 337v7M334 339.5h7M337.5 336v7M334 336.5h7M337.5 333v7M334 325.5h7M337.5 322v7M334 348.5h7M337.5 345v7M334 341.5h7M337.5 338v7M335 336.5h7M338.5 333v7M335 345.5h7M338.5 342v7M335 336.5h7M338.5 333v7M335 336.5h7M338.5 333v7M335 340.5h7M338.5 337v7M335 336.5h7M338.5 333v7M335 326.5h7M338.5 323v7M336 342.5h7M339.5 339v7M336 328.5h7M339.5 325v7M336 333.5h7M339.5 330v7M336 332.5h7M339.5 329v7M336 341.5h7M339.5 338v7M336 330.5h7M339.5 327v7M336 345.5h7M339.5 342v7M336 343.5h7M339.5 340v7M337 334.5h7M340.5 331v7M337 344.5h7M340.5 341v7M337 334.5h7M340.5 331v7M337 346.5h7M340.5 343v7M337 338.5h7M340.5 335v7M337 341.5h7M340.5 338v7M337 344.5h7M340.5 341v7M338 344.5h7M341.5 341v7M338 333.5h7M341.5 330v7M338 326.5h7M341.5 323v7M338 334.5h7M341.5 331v7M338 325.5h7M341.5 322v7M338 351.5h7M341.5 348v7M338 344.5h7M341.5 341v7M338 348.5h7M341.5 345v7M339 329.5h7M342.5 326v7M339 332.5h7M342.5 329v7M339 340.5h7M342.5 337v7M339 349.5h7M342.5 346v7M339 348.5h7M342.5 345v7M339 334.5h7M342.5 331v7M339 332.5h7M342.5 329v7M340 332.5h7M343.5 329v7M340 339.5h7M343.5 336v7M340 335.5h7M343.5 332v7M340 352.5h7M343.5 349v7M340 352.5h7M343.5 349v7M340 344.5h7M343.5 341v7M340 330.5h7M343.5 327v7M340 324.5h7M343.5 321v7M341 332.5h7M344.5 329v7M341 338.5h7M344.5 335v7M341 340.5h7M344.5 337v7M341 344.5h7M344.5 341v7M341 342.5h7M344.5 339v7M341 331.5h7M344.5 328v7M341 340.5h7M344.5 337v7M342 330.5h7M345.5 327v7M342 321.5h7M345.5 318v7M342 339.5h7M345.5 336v7M342 341.5h7M345.5 338v7M342 317.5h7M345.5 314v7M342 336.5h7M345.5 333v7M342 348.5h7M345.5 345v7M342 340.5h7M345.5 337v7M343 328.5h7M346.5 325v7M343 342.5h7M346.5 339v7M343 346.5h7M346.5 343v7M343 325.5h7M346.5 322v7M343 332.5h7M346.5 329v7M343 327.5h7M346.5 324v7M343 316.5h7M346.5 313v7M344 346.5h7M347.5 343v7M344 332.5h7M347.5 329v7M344 336.5h7M347.5 333v7M344 339.5h7M347.5 336v7M344 343.5h7M347.5 340v7M344 340.5h7M347.5 337v7M344 343.5h7M347.5 340v7M344 329.5h7M347.5 326v7M345 332.5h7M348.5 329v7M345 336.5h7M348.5 333v7M345 325.5h7M348.5 322v7M345 332.5h7M348.5 329v7M345 337.5h7M348.5 334v7M345 337.5h7M348.5 334v7M345 328.5h7M348.5 325v7M346 327.5h7M349.5 324v7M346 343.5h7M349.5 340v7M346 336.5h7M349.5 333v7M346 340.5h7M349.5 337v7M346 322.5h7M349.5 319v7M346 344.5h7M349.5 341v7M346 326.5h7M349.5 323v7M346 332.5h7M349.5 329v7M347 330.5h7M350.5 327v7M347 321.5h7M350.5 318v7M347 340.5h7M350.5 337v7M347 336.5h7M350.5 333v7M347 325.5h7M350.5 322v7M347 330.5h7M350.5 327v7M347 343.5h7M350.5 340v7M348 318.5h7M351.5 315v7M348 333.5h7M351.5 330v7M348 331.5h7M351.5 328v7M348 340.5h7M351.5 337v7M348 330.5h7M351.5 327v7M348 319.5h7M351.5 316v7M348 344.5h7M351.5 341v7M348 332.5h7M351.5 329v7M349 333.5h7M352.5 330v7M349 336.5h7M352.5 333v7M349 339.5h7M352.5 336v7M349 332.5h7M352.5 329v7M349 323.5h7M352.5 320v7M349 339.5h7M352.5 336v7M349 339.5h7M352.5 336v7M350 342.5h7M353.5 339v7M350 328.5h7M353.5 325v7M350 350.5h7M353.5 347v7M350 325.5h7M353.5 322v7M350 332.5h7M353.5 329v7M350 336.5h7M353.5 333v7M350 325.5h7M353.5 322v7M350 331.5h7M353.5 328v7M351 337.5h7M354.5 334v7M351 317.5h7M354.5 314v7M351 341.5h7M354.5 338v7M351 332.5h7M354.5 329v7M351 336.5h7M354.5 333v7M351 322.5h7M354.5 319v7M351 336.5h7M354.5 333v7M352 335.5h7M355.5 332v7M352 339.5h7M355.5 336v7M352 329.5h7M355.5 326v7M352 323.5h7M355.5 320v7M352 328.5h7M355.5 325v7M352 348.5h7M355.5 345v7M352 331.5h7M355.5 328v7M352 328.5h7M355.5 325v7M353 325.5h7M356.5 322v7M353 325.5h7M356.5 322v7M353 340.5h7M356.5 337v7M353 336.5h7M356.5 333v7M353 325.5h7M356.5 322v7M353 327.5h7M356.5 324v7M353 330.5h7M356.5 327v7M354 315.5h7M357.5 312v7M354 334.5h7M357.5 331v7M354 338.5h7M357.5 335v7M354 330.5h7M357.5 327v7M354 346.5h7M357.5 343v7M354 327.5h7M357.5 324v7M354 349.5h7M357.5 346v7M354 334.5h7M357.5 331v7M355 325.5h7M358.5 322v7M355 317.5h7M358.5 314v7M355 334.5h7M358.5 331v7M355 336.5h7M358.5 333v7M355 337.5h7M358.5 334v7M355 336.5h7M358.5 333v7M355 325.5h7M358.5 322v7M356 349.5h7M359.5 346v7M356 337.5h7M359.5 334v7M356 337.5h7M359.5 334v7M356 339.5h7M359.5 336v7M356 319.5h7M359.5 316v7M356 329.5h7M359.5 326v7M356 345.5h7M359.5 342v7M356 320.5h7M359.5 317v7M357 325.5h7M360.5 322v7M357 321.5h7M360.5 318v7M357 330.5h7M360.5 327v7M357 322.5h7M360.5 319v7M357 333.5h7M360.5 330v7M357 328.5h7M360.5 325v7M357 328.5h7M360.5 325v7M358 324.5h7M361.5 321v7M358 332.5h7M361.5 329v7M358 332.5h7M361.5 329v7M358 312.5h7M361.5 309v7M358 312.5h7M361.5 309v7M358 345.5h7M361.5 342v7M358 336.5h7M361.5 333v7M358 333.5h7M361.5 330v7M359 328.5h7M362.5 325v7M359 344.5h7M362.5 341v7M359 332.5h7M362.5 329v7M359 321.5h7M362.5 318v7M359 332.5h7M362.5 329v7M359 334.5h7M362.5 331v7M359 336.5h7M362.5 333v7M360 321.5h7M363.5 318v7M360 316.5h7M363.5 313v7M360 334.5h7M363.5 331v7M360 337.5h7M363.5 334v7M360 345.5h7M363.5 342v7M360 340.5h7M363.5 337v7M360 326.5h7M363.5 323v7M360 333.5h7M363.5 330v7M361 336.5h7M364.5 333v7M361 336.5h7M364.5 333v7M361 342.5h7M364.5 339v7M361 340.5h7M364.5 337v7M361 344.5h7M364.5 341v7M361 349.5h7M364.5 346v7M361 341.5h7M364.5 338v7M362 327.5h7M365.5 324v7M362 331.5h7M365.5 328v7M362 341.5h7M365.5 338v7M362 328.5h7M365.5 325v7M362 336.5h7M365.5 333v7M362 336.5h7M365.5 333v7M362 342.5h7M365.5 339v7M362 350.5h7M365.5 347v7M363 333.5h7M366.5 330v7M363 343.5h7M366.5 340v7M363 352.5h7M366.5 349v7M363 344.5h7M366.5 341v7M363 333.5h7M366.5 330v7M363 348.5h7M366.5 345v7M363 340.5h7M366.5 337v7M364 340.5h7M367.5 337v7M364 350.5h7M367.5 347v7M364 334.5h7M367.5 331v7M364 332.5h7M367.5 329v7M364 358.5h7M367.5 355v7M364 338.5h7M367.5 335v7M364 337.5h7M367.5 334v7M364 338.5h7M367.5 335v7M365 352.5h7M368.5 349v7M365 340.5h7M368.5 337v7M365 343.5h7M368.5 340v7M365 359.5h7M368.5 356v7M365 337.5h7M368.5 334v7M365 337.5h7M368.5 334v7M365 346.5h7M368.5 343v7M366 348.5h7M369.5 345v7M366 353.5h7M369.5 350v7M366 351.5h7M369.5 348v7M366 362.5h7M369.5 359v7M366 341.5h7M369.5 338v7M366 359.5h7M369.5 356v7M366 355.5h7M369.5 352v7M366 336.5h7M369.5 333v7M367 342.5h7M370.5 339v7M367 340.5h7M370.5 337v7M367 352.5h7M370.5 349v7M367 358.5h7M370.5 355v7M367 340.5h7M370.5 337v7M367 351.5h7M370.5 348v7M367 338.5h7M370.5 335v7M368 346.5h7M371.5 343v7M368 346.5h7M371.5 343v7M368 354.5h7M371.5 351v7M368 359.5h7M371.5 356v7M368 359.5h7M371.5 356v7M368 367.5h7M371.5 364v7M368 343.5h7M371.5 340v7M368 355.5h7M371.5 352v7M369 348.5h7M372.5 345v7M369 348.5h7M372.5 345v7M369 348.5h7M372.5 345v7M369 364.5h7M372.5 361v7M369 349.5h7M372.5 346v7M369 358.5h7M372.5 355v7M369 352.5h7M372.5 349v7M370 367.5h7M373.5 364v7M370 356.5h7M373.5 353v7M370 372.5h7M373.5 369v7M370 348.5h7M373.5 345v7M370 340.5h7M373.5 337v7M370 356.5h7M373.5 353v7M370 334.5h7M373.5 331v7M370 350.5h7M373.5 347v7M371 355.5h7M374.5 352v7M371 363.5h7M374.5 360v7M371 359.5h7M374.5 356v7M371 338.5h7M374.5 335v7M371 355.5h7M374.5 352v7M371 350.5h7M374.5 347v7M371 358.5h7M374.5 355v7M372 354.5h7M375.5 351v7M372 354.5h7M375.5 351v7M372 342.5h7M375.5 339v7M372 333.5h7M375.5 330v7M372 357.5h7M375.5 354v7M372 356.5h7M375.5 353v7M372 359.5h7M375.5 356v7M372 357.5h7M375.5 354v7M373 353.5h7M376.5 350v7M373 369.5h7M376.5 366v7M373 336.5h7M376.5 333v7M373 366.5h7M376.5 363v7M373 357.5h7M376.5 354v7M373 350.5h7M376.5 347v7M373 360.5h7M376.5 357v7M374 354.5h7M377.5 351v7M374 367.5h7M377.5 364v7M374 352.5h7M377.5 349v7M374 356.5h7M377.5 353v7M374 359.5h7M377.5 356v7M374 367.5h7M377.5 364v7M374 351.5h7M377.5 348v7M374 351.5h7M377.5 348v7M375 343.5h7M378.5 340v7M375 355.5h7M378.5 352v7M375 363.5h7M378.5 360v7M375 356.5h7M378.5 353v7M375 340.5h7M378.5 337v7M375 353.5h7M378.5 350v7M375 352.5h7M378.5 349v7M376 362.5h7M379.5 359v7M376 348.5h7M379.5 345v7M376 344.5h7M379.5 341v7M376 358.5h7M379.5 355v7M376 359.5h7M379.5 356v7M376 356.5h7M379.5 353v7M376 360.5h7M379.5 357v7M376 350.5h7M379.5 347v7M377 359.5h7M380.5 356v7M377 341.5h7M380.5 338v7M377 352.5h7M380.5 349v7M377 357.5h7M380.5 354v7M377 359.5h7M380.5 356v7M377 366.5h7M380.5 363v7M377 358.5h7M380.5 355v7M378 355.5h7M381.5 352v7M378 359.5h7M381.5 356v7M378 351.5h7M381.5 348v7M378 355.5h7M381.5 352v7M378 342.5h7M381.5 339v7M378 369.5h7M381.5 366v7M378 357.5h7M381.5 354v7M378 350.5h7M381.5 347v7M379 348.5h7M382.5 345v7M379 352.5h7M382.5 349v7M379 355.5h7M382.5 352v7M379 358.5h7M382.5 355v7M379 353.5h7M382.5 350v7M379 352.5h7M382.5 349v7M379 351.5h7M382.5 348v7M380 355.5h7M383.5 352v7M380 354.5h7M383.5 351v7M380 348.5h7M383.5 345v7M380 352.5h7M383.5 349v7M380 354.5h7M383.5 351v7M380 348.5h7M383.5 345v7M380 357.5h7M383.5 354v7M380 360.5h7M383.5 357v7M381 361.5h7M384.5 358v7M381 342.5h7M384.5 339v7M381 349.5h7M384.5 346v7M381 348.5h7M384.5 345v7M381 363.5h7M384.5 360v7M381 369.5h7M384.5 366v7M381 353.5h7M384.5 350v7M382 349.5h7M385.5 346v7M382 367.5h7M385.5 364v7M382 364.5h7M385.5 361v7M382 359.5h7M385.5 356v7M382 355.5h7M385.5 352v7M382 363.5h7M385.5 360v7M382 355.5h7M385.5 352v7M382 352.5h7M385.5 349v7M383 363.5h7M386.5 360v7M383 354.5h7M386.5 351v7M383 363.5h7M386.5 360v7M383 363.5h7M386.5 360v7M383 375.5h7M386.5 372v7M383 362.5h7M386.5 359v7M383 366.5h7M386.5 363v7M384 361.5h7M387.5 358v7M384 364.5h7M387.5 361v7M384 361.5h7M387.5 358v7M384 355.5h7M387.5 352v7M384 351.5h7M387.5 348v7M384 364.5h7M387.5 361v7M384 359.5h7M387.5 356v7M384 365.5h7M387.5 362v7M385 361.5h7M388.5 358v7M385 367.5h7M388.5 364v7M385 346.5h7M388.5 343v7M385 356.5h7M388.5 353v7M385 363.5h7M388.5 360v7M385 367.5h7M388.5 364v7M385 362.5h7M388.5 359v7M386 366.5h7M389.5 363v7M386 359.5h7M389.5 356v7M386 362.5h7M389.5 359v7M386 354.5h7M389.5 351v7M386 364.5h7M389.5 361v7M386 350.5h7M389.5 347v7M386 374.5h7M389.5 371v7M386 363.5h7M389.5 360v7M387 364.5h7M390.5 361v7M387 367.5h7M390.5 364v7M387 367.5h7M390.5 364v7M387 363.5h7M390.5 360v7M387 361.5h7M390.5 358v7M387 375.5h7M390.5 372v7M387 364.5h7M390.5 361v7M388 363.5h7M391.5 360v7M388 365.5h7M391.5 362v7M388 373.5h7M391.5 370v7M388 371.5h7M391.5 368v7M388 368.5h7M391.5 365v7M388 355.5h7M391.5 352v7M388 371.5h7M391.5 368v7M388 367.5h7M391.5 364v7M389 348.5h7M392.5 345v7M389 355.5h7M392.5 352v7M389 361.5h7M392.5 358v7M389 366.5h7M392.5 363v7M389 352.5h7M392.5 349v7M389 358.5h7M392.5 355v7M389 367.5h7M392.5 364v7M390 359.5h7M393.5 356v7M390 358.5h7M393.5 355v7M390 365.5h7M393.5 362v7M390 350.5h7M393.5 347v7M390 360.5h7M393.5 357v7M390 355.5h7M393.5 352v7M390 361.5h7M393.5 358v7M390 358.5h7M393.5 355v7M391 359.5h7M394.5 356v7M391 350.5h7M394.5 347v7M391 360.5h7M394.5 357v7M391 368.5h7M394.5 365v7M391 369.5h7M394.5 366v7M391 360.5h7M394.5 357v7M391 359.5h7M394.5 356v7M392 367.5h7M395.5 364v7M392 365.5h7M395.5 362v7M392 341.5h7M395.5 338v7M392 354.5h7M395.5 351v7M392 367.5h7M395.5 364v7M392 367.5h7M395.5 364v7M392 365.5h7M395.5 362v7M392 365.5h7M395.5 362v7M393 363.5h7M396.5 360v7M393 345.5h7M396.5 342v7M393 356.5h7M396.5 353v7M393 362.5h7M396.5 359v7M393 366.5h7M396.5 363v7M393 359.5h7M396.5 356v7M393 366.5h7M396.5 363v7M394 375.5h7M397.5 372v7M394 374.5h7M397.5 371v7M394 367.5h7M397.5 364v7M394 376.5h7M397.5 373v7M394 357.5h7M397.5 354v7M394 371.5h7M397.5 368v7M394 369.5h7M397.5 366v7M394 365.5h7M397.5 362v7M395 369.5h7M398.5 366v7M395 369.5h7M398.5 366v7M395 362.5h7M398.5 359v7M395 362.5h7M398.5 359v7M395 370.5h7M398.5 367v7M395 360.5h7M398.5 357v7M395 363.5h7M398.5 360v7M396 353.5h7M399.5 350v7M396 354.5h7M399.5 351v7M396 373.5h7M399.5 370v7M396 370.5h7M399.5 367v7M396 367.5h7M399.5 364v7M396 369.5h7M399.5 366v7M396 368.5h7M399.5 365v7M396 369.5h7M399.5 366v7M397 371.5h7M400.5 368v7M397 362.5h7M400.5 359v7M397 360.5h7M400.5 357v7M397 368.5h7M400.5 365v7M397 371.5h7M400.5 368v7M397 366.5h7M400.5 363v7M397 371.5h7M400.5 368v7M398 361.5h7M401.5 358v7M398 359.5h7M401.5 356v7M398 360.5h7M401.5 357v7M398 362.5h7M401.5 359v7M398 362.5h7M401.5 359v7M398 367.5h7M401.5 364v7M398 352.5h7M401.5 349v7M398 372.5h7M401.5 369v7M399 373.5h7M402.5 370v7M399 359.5h7M402.5 356v7M399 367.5h7M402.5 364v7M399 355.5h7M402.5 352v7M399 378.5h7M402.5 375v7M399 359.5h7M402.5 356v7M399 363.5h7M402.5 360v7M400 372.5h7M403.5 369v7M400 362.5h7M403.5 359v7M400 368.5h7M403.5 365v7M400 371.5h7M403.5 368v7M400 350.5h7M403.5 347v7M400 365.5h7M403.5 362v7M400 358.5h7M403.5 355v7M400 366.5h7M403.5 363v7M401 352.5h7M404.5 349v7M401 365.5h7M404.5 362v7M401 357.5h7M404.5 354v7M401 364.5h7M404.5 361v7M401 368.5h7M404.5 365v7M401 363.5h7M404.5 360v7M401 373.5h7M404.5 370v7M402 370.5h7M405.5 367v7M402 361.5h7M405.5 358v7M402 357.5h7M405.5 354v7M402 368.5h7M405.5 365v7M402 359.5h7M405.5 356v7M402 362.5h7M405.5 359v7M402 371.5h7M405.5 368v7M402 363.5h7M405.5 360v7M403 341.5h7M406.5 338v7M403 364.5h7M406.5 361v7M403 361.5h7M406.5 358v7M403 360.5h7M406.5 357v7M403 359.5h7M406.5 356v7M403 360.5h7M406.5 357v7M403 360.5h7M406.5 357v7M404 359.5h7M407.5 356v7M404 359.5h7M407.5 356v7M404 370.5h7M407.5 367v7M404 359.5h7M407.5 356v7M404 363.5h7M407.5 360v7M404 348.5h7M407.5 345v7M404 359.5h7M407.5 356v7M404 353.5h7M407.5 350v7M405 369.5h7M408.5 366v7M405 359.5h7M408.5 356v7M405 359.5h7M408.5 356v7M405 353.5h7M408.5 350v7M405 363.5h7M408.5 360v7M405 354.5h7M408.5 351v7M405 356.5h7M408.5 353v7M406 350.5h7M409.5 347v7M406 355.5h7M409.5 352v7M406 363.5h7M409.5 360v7M406 363.5h7M409.5 360v7M406 361.5h7M409.5 358v7M406 339.5h7M409.5 336v7M406 359.5h7M409.5 356v7M406 355.5h7M409.5 352v7M407 366.5h7M410.5 363v7M407 364.5h7M410.5 361v7M407 355.5h7M410.5 352v7M407 348.5h7M410.5 345v7M407 356.5h7M410.5 353v7M407 344.5h7M410.5 341v7M407 347.5h7M410.5 344v7M408 352.5h7M411.5 349v7M408 355.5h7M411.5 352v7M408 363.5h7M411.5 360v7M408 364.5h7M411.5 361v7M408 359.5h7M411.5 356v7M408 348.5h7M411.5 345v7M408 356.5h7M411.5 353v7M408 340.5h7M411.5 337v7M409 350.5h7M412.5 347v7M409 360.5h7M412.5 357v7M409 345.5h7M412.5 342v7M409 355.5h7M412.5 352v7M409 363.5h7M412.5 360v7M409 355.5h7M412.5 352v7M409 349.5h7M412.5 346v7M410 359.5h7M413.5 356v7M410 352.5h7M413.5 349v7M410 340.5h7M413.5 337v7M410 362.5h7M413.5 359v7M410 355.5h7M413.5 352v7M410 353.5h7M413.5 350v7M410 355.5h7M413.5 352v7M410 357.5h7M413.5 354v7M411 356.5h7M414.5 353v7M411 356.5h7M414.5 353v7M411 337.5h7M414.5 334v7M411 348.5h7M414.5 345v7M411 340.5h7M414.5 337v7M411 339.5h7M414.5 336v7M411 340.5h7M414.5 337v7M412 340.5h7M415.5 337v7M412 359.5h7M415.5 356v7M412 342.5h7M415.5 339v7M412 360.5h7M415.5 357v7M412 347.5h7M415.5 344v7M412 347.5h7M415.5 344v7M412 355.5h7M415.5 352v7M412 361.5h7M415.5 358v7M413 345.5h7M416.5 342v7M413 328.5h7M416.5 325v7M413 332.5h7M416.5 329v7M413 345.5h7M416.5 342v7M413 352.5h7M416.5 349v7M413 324.5h7M416.5 321v7M413 330.5h7M416.5 327v7M414 350.5h7M417.5 347v7M414 345.5h7M417.5 342v7M414 342.5h7M417.5 339v7M414 330.5h7M417.5 327v7M414 328.5h7M417.5 325v7M414 333.5h7M417.5 330v7M414 341.5h7M417.5 338v7M414 338.5h7M417.5 335v7M415 332.5h7M418.5 329v7M415 319.5h7M418.5 316v7M415 340.5h7M418.5 337v7M415 315.5h7M418.5 312v7M415 337.5h7M418.5 334v7M415 319.5h7M418.5 316v7M415 322.5h7M418.5 319v7M416 331.5h7M419.5 328v7M416 324.5h7M419.5 321v7M416 319.5h7M419.5 316v7M416 336.5h7M419.5 333v7M416 316.5h7M419.5 313v7M416 343.5h7M419.5 340v7M416 325.5h7M419.5 322v7M416 321.5h7M419.5 318v7M417 332.5h7M420.5 329v7M417 325.5h7M420.5 322v7M417 317.5h7M420.5 314v7M417 331.5h7M420.5 328v7M417 326.5h7M420.5 323v7M417 327.5h7M420.5 324v7M417 311.5h7M420.5 308v7M418 298.5h7M421.5 295v7M418 311.5h7M421.5 308v7M418 313.5h7M421.5 310v7M418 334.5h7M421.5 331v7M418 313.5h7M421.5 310v7M418 315.5h7M421.5 312v7M418 309.5h7M421.5 306v7M418 315.5h7M421.5 312v7M419 311.5h7M422.5 308v7M419 312.5h7M422.5 309v7M419 314.5h7M422.5 311v7M419 302.5h7M422.5 299v7M419 325.5h7M422.5 322v7M419 315.5h7M422.5 312v7M419 308.5h7M422.5 305v7M420 329.5h7M423.5 326v7M420 307.5h7M423.5 304v7M420 332.5h7M423.5 329v7M420 310.5h7M423.5 307v7M420 334.5h7M423.5 331v7M420 298.5h7M423.5 295v7M420 324.5h7M423.5 321v7M420 311.5h7M423.5 308v7M421 322.5h7M424.5 319v7M421 318.5h7M424.5 315v7M421 321.5h7M424.5 318v7M421 308.5h7M424.5 305v7M421 312.5h7M424.5 309v7M421 307.5h7M424.5 304v7M421 303.5h7M424.5 300v7M422 319.5h7M425.5 316v7M422 299.5h7M425.5 296v7M422 317.5h7M425.5 314v7M422 312.5h7M425.5 309v7M422 305.5h7M425.5 302v7M422 315.5h7M425.5 312v7M422 315.5h7M425.5 312v7M422 314.5h7M425.5 311v7M423 332.5h7M426.5 329v7M423 330.5h7M426.5 327v7M423 319.5h7M426.5 316v7M423 305.5h7M426.5 302v7M423 305.5h7M426.5 302v7M423 308.5h7M426.5 305v7M423 317.5h7M426.5 314v7M424 322.5h7M427.5 319v7M424 317.5h7M427.5 314v7M424 315.5h7M427.5 312v7M424 311.5h7M427.5 308v7M424 314.5h7M427.5 311v7M424 324.5h7M427.5 321v7M424 324.5h7M427.5 321v7M424 333.5h7M427.5 330v7M425 318.5h7M428.5 315v7M425 314.5h7M428.5 311v7M425 314.5h7M428.5 311v7M425 328.5h7M428.5 325v7M425 325.5h7M428.5 322v7M425 307.5h7M428.5 304v7M425 328.5h7M428.5 325v7M426 314.5h7M429.5 311v7M426 317.5h7M429.5 314v7M426 309.5h7M429.5 306v7M426 325.5h7M429.5 322v7M426 328.5h7M429.5 325v7M426 332.5h7M429.5 329v7M426 335.5h7M429.5 332v7M426 319.5h7M429.5 316v7M427 321.5h7M430.5 318v7M427 323.5h7M430.5 320v7M427 329.5h7M430.5 326v7M427 317.5h7M430.5 314v7M427 329.5h7M430.5 326v7M427 300.5h7M430.5 297v7M427 332.5h7M430.5 329v7M428 334.5h7M431.5 331v7M428 312.5h7M431.5 309v7M428 321.5h7M431.5 318v7M428 315.5h7M431.5 312v7M428 312.5h7M431.5 309v7M428 329.5h7M431.5 326v7M428 325.5h7M431.5 322v7M428 319.5h7M431.5 316v7M429 323.5h7M432.5 320v7M429 310.5h7M432.5 307v7M429 320.5h7M432.5 317v7M429 313.5h7M432.5 310v7M429 332.5h7M432.5 329v7M429 340.5h7M432.5 337v7M429 311.5h7M432.5 308v7M430 332.5h7M433.5 329v7M430 333.5h7M433.5 330v7M430 322.5h7M433.5 319v7M430 324.5h7M433.5 321v7M430 329.5h7M433.5 326v7M430 333.5h7M433.5 330v7M430 318.5h7M433.5 315v7M430 324.5h7M433.5 321v7M431 322.5h7M434.5 319v7M431 327.5h7M434.5 324v7M431 325.5h7M434.5 322v7M431 325.5h7M434.5 322v7M431 317.5h7M434.5 314v7M431 332.5h7M434.5 329v7M431 344.5h7M434.5 341v7M432 325.5h7M435.5 322v7M432 344.5h7M435.5 341v7M432 327.5h7M435.5 324v7M432 346.5h7M435.5 343v7M432 336.5h7M435.5 333v7M432 350.5h7M435.5 347v7M432 340.5h7M435.5 337v7M432 343.5h7M435.5 340v7M433 336.5h7M436.5 333v7M433 330.5h7M436.5 327v7M433 336.5h7M436.5 333v7M433 354.5h7M436.5 351v7M433 334.5h7M436.5 331v7M433 331.5h7M436.5 328v7M433 344.5h7M436.5 341v7M434 335.5h7M437.5 332v7M434 344.5h7M437.5 341v7M434 332.5h7M437.5 329v7M434 351.5h7M437.5 348v7M434 350.5h7M437.5 347v7M434 336.5h7M437.5 333v7M434 340.5h7M437.5 337v7M434 352.5h7M437.5 349v7M435 348.5h7M438.5 345v7M435 348.5h7M438.5 345v7M435 348.5h7M438.5 345v7M435 352.5h7M438.5 349v7M435 348.5h7M438.5 345v7M435 352.5h7M438.5 349v7M435 344.5h7M438.5 341v7M436 350.5h7M439.5 347v7M436 341.5h7M439.5 338v7M436 354.5h7M439.5 351v7M436 350.5h7M439.5 347v7M436 352.5h7M439.5 349v7M436 340.5h7M439.5 337v7M436 343.5h7M439.5 340v7M436 328.5h7M439.5 325v7M437 359.5h7M440.5 356v7M437 355.5h7M440.5 352v7M437 348.5h7M440.5 345v7M437 363.5h7M440.5 360v7M437 350.5h7M440.5 347v7M437 351.5h7M440.5 348v7M437 358.5h7M440.5 355v7M438 351.5h7M441.5 348v7M438 356.5h7M441.5 353v7M438 360.5h7M441.5 357v7M438 357.5h7M441.5 354v7M438 348.5h7M441.5 345v7M438 359.5h7M441.5 356v7M438 355.5h7M441.5 352v7M438 367.5h7M441.5 364v7M439 363.5h7M442.5 360v7M439 356.5h7M442.5 353v7M439 360.5h7M442.5 357v7M439 360.5h7M442.5 357v7M439 344.5h7M442.5 341v7M439 347.5h7M442.5 344v7M439 355.5h7M442.5 352v7M440 361.5h7M443.5 358v7M440 362.5h7M443.5 359v7M440 363.5h7M443.5 360v7M440 371.5h7M443.5 368v7M440 371.5h7M443.5 368v7M440 363.5h7M443.5 360v7M440 359.5h7M443.5 356v7M440 359.5h7M443.5 356v7M441 364.5h7M444.5 361v7M441 366.5h7M444.5 363v7M441 358.5h7M444.5 355v7M441 355.5h7M444.5 352v7M441 363.5h7M444.5 360v7M441 365.5h7M444.5 362v7M441 365.5h7M444.5 362v7M442 359.5h7M445.5 356v7M442 359.5h7M445.5 356v7M442 367.5h7M445.5 364v7M442 367.5h7M445.5 364v7M442 367.5h7M445.5 364v7M442 371.5h7M445.5 368v7M442 363.5h7M445.5 360v7M442 380.5h7M445.5 377v7M443 360.5h7M446.5 357v7M443 364.5h7M446.5 361v7M443 366.5h7M446.5 363v7M443 363.5h7M446.5 360v7M443 360.5h7M446.5 357v7M443 373.5h7M446.5 370v7M443 368.5h7M446.5 365v7M444 357.5h7M447.5 354v7M444 379.5h7M447.5 376v7M444 367.5h7M447.5 364v7M444 371.5h7M447.5 368v7M444 360.5h7M447.5 357v7M444 347.5h7M447.5 344v7M444 369.5h7M447.5 366v7M444 370.5h7M447.5 367v7M445 360.5h7M448.5 357v7M445 387.5h7M448.5 384v7M445 367.5h7M448.5 364v7M445 366.5h7M448.5 363v7M445 373.5h7M448.5 370v7M445 375.5h7M448.5 372v7M445 363.5h7M448.5 360v7M446 377.5h7M449.5 374v7M446 379.5h7M449.5 376v7M446 379.5h7M449.5 376v7M446 371.5h7M449.5 368v7M446 383.5h7M449.5 380v7M446 364.5h7M449.5 361v7M446 368.5h7M449.5 365v7M446 377.5h7M449.5 374v7M447 371.5h7M450.5 368v7M447 368.5h7M450.5 365v7M447 375.5h7M450.5 372v7M447 373.5h7M450.5 370v7M447 383.5h7M450.5 380v7M447 375.5h7M450.5 372v7M447 373.5h7M450.5 370v7M448 368.5h7M451.5 365v7M448 370.5h7M451.5 367v7M448 378.5h7M451.5 375v7M448 371.5h7M451.5 368v7M448 370.5h7M451.5 367v7M448 371.5h7M451.5 368v7M448 368.5h7M451.5 365v7M448 371.5h7M451.5 368v7M449 375.5h7M452.5 372v7M449 381.5h7M452.5 378v7M449 371.5h7M452.5 368v7M449 376.5h7M452.5 373v7M449 376.5h7M452.5 373v7M449 370.5h7M452.5 367v7M449 372.5h7M452.5 369v7M450 380.5h7M453.5 377v7M450 370.5h7M453.5 367v7M450 381.5h7M453.5 378v7M450 373.5h7M453.5 370v7M450 369.5h7M453.5 366v7M450 367.5h7M453.5 364v7M450 378.5h7M453.5 375v7M450 382.5h7M453.5 379v7M451 369.5h7M454.5 366v7M451 376.5h7M454.5 373v7M451 375.5h7M454.5 372v7M451 359.5h7M454.5 356v7M451 371.5h7M454.5 368v7M451 387.5h7M454.5 384v7M451 367.5h7M454.5 364v7M452 363.5h7M455.5 360v7M452 372.5h7M455.5 369v7M452 378.5h7M455.5 375v7M452 377.5h7M455.5 374v7M452 371.5h7M455.5 368v7M452 365.5h7M455.5 362v7M452 369.5h7M455.5 366v7M452 370.5h7M455.5 367v7M453 369.5h7M456.5 366v7M453 381.5h7M456.5 378v7M453 379.5h7M456.5 376v7M453 360.5h7M456.5 357v7M453 376.5h7M456.5 373v7M453 373.5h7M456.5 370v7M453 363.5h7M456.5 360v7M454 369.5h7M457.5 366v7M454 352.5h7M457.5 349v7M454 364.5h7M457.5 361v7M454 370.5h7M457.5 367v7M454 358.5h7M457.5 355v7M454 359.5h7M457.5 356v7M454 366.5h7M457.5 363v7M454 366.5h7M457.5 363v7M455 359.5h7M458.5 356v7M455 371.5h7M458.5 368v7M455 375.5h7M458.5 372v7M455 362.5h7M458.5 359v7M455 371.5h7M458.5 368v7M455 359.5h7M458.5 356v7M455 355.5h7M458.5 352v7M456 355.5h7M459.5 352v7M456 365.5h7M459.5 362v7M456 363.5h7M459.5 360v7M456 360.5h7M459.5 357v7M456 340.5h7M459.5 337v7M456 362.5h7M459.5 359v7M456 344.5h7M459.5 341v7M456 352.5h7M459.5 349v7M457 366.5h7M460.5 363v7M457 342.5h7M460.5 339v7M457 370.5h7M460.5 367v7M457 367.5h7M460.5 364v7M457 347.5h7M460.5 344v7M457 348.5h7M460.5 345v7M457 355.5h7M460.5 352v7M458 359.5h7M461.5 356v7M458 353.5h7M461.5 350v7M458 344.5h7M461.5 341v7M458 348.5h7M461.5 345v7M458 348.5h7M461.5 345v7M458 351.5h7M461.5 348v7M458 348.5h7M461.5 345v7M458 346.5h7M461.5 343v7M459 355.5h7M462.5 352v7M459 347.5h7M462.5 344v7M459 342.5h7M462.5 339v7M459 350.5h7M462.5 347v7M459 343.5h7M462.5 340v7M459 351.5h7M462.5 348v7M459 328.5h7M462.5 325v7M460 352.5h7M463.5 349v7M460 332.5h7M463.5 329v7M460 334.5h7M463.5 331v7M460 344.5h7M463.5 341v7M460 351.5h7M463.5 348v7M460 344.5h7M463.5 341v7M460 342.5h7M463.5 339v7M460 353.5h7M463.5 350v7M461 340.5h7M464.5 337v7M461 337.5h7M464.5 334v7M461 338.5h7M464.5 335v7M461 325.5h7M464.5 322v7M461 345.5h7M464.5 342v7M461 332.5h7M464.5 329v7M461 331.5h7M464.5 328v7M462 336.5h7M465.5 333v7M462 334.5h7M465.5 331v7M462 328.5h7M465.5 325v7M462 340.5h7M465.5 337v7M462 341.5h7M465.5 338v7M462 327.5h7M465.5 324v7M462 333.5h7M465.5 330v7M462 328.5h7M465.5 325v7M463 333.5h7M466.5 330v7M463 329.5h7M466.5 326v7M463 331.5h7M466.5 328v7M463 333.5h7M466.5 330v7M463 332.5h7M466.5 329v7M463 344.5h7M466.5 341v7M463 345.5h7M466.5 342v7M464 341.5h7M467.5 338v7M464 336.5h7M467.5 333v7M464 340.5h7M467.5 337v7M464 328.5h7M467.5 325v7M464 336.5h7M467.5 333v7M464 328.5h7M467.5 325v7M464 334.5h7M467.5 331v7M464 336.5h7M467.5 333v7M465 317.5h7M468.5 314v7M465 332.5h7M468.5 329v7M465 347.5h7M468.5 344v7M465 334.5h7M468.5 331v7M465 317.5h7M468.5 314v7M465 319.5h7M468.5 316v7M465 325.5h7M468.5 322v7M466 329.5h7M469.5 326v7M466 321.5h7M469.5 318v7M466 334.5h7M469.5 331v7M466 324.5h7M469.5 321v7M466 318.5h7M469.5 315v7M466 309.5h7M469.5 306v7M466 336.5h7M469.5 333v7M466 328.5h7M469.5 325v7M467 325.5h7M470.5 322v7M467 332.5h7M470.5 329v7M467 328.5h7M470.5 325v7M467 331.5h7M470.5 328v7M467 332.5h7M470.5 329v7M467 330.5h7M470.5 327v7M467 330.5h7M470.5 327v7M468 325.5h7M471.5 322v7M468 331.5h7M471.5 328v7M468 315.5h7M471.5 312v7M468 328.5h7M471.5 325v7M468 337.5h7M471.5 334v7M468 348.5h7M471.5 345v7M468 333.5h7M471.5 330v7M468 321.5h7M471.5 318v7M469 334.5h7M472.5 331v7M469 327.5h7M472.5 324v7M469 323.5h7M472.5 320v7M469 328.5h7M472.5 325v7M469 326.5h7M472.5 323v7M469 328.5h7M472.5 325v7M469 326.5h7M472.5 323v7M470 329.5h7M473.5 326v7M470 328.5h7M473.5 325v7M470 322.5h7M473.5 319v7M470 340.5h7M473.5 337v7M470 343.5h7M473.5 340v7M470 336.5h7M473.5 333v7M470 348.5h7M473.5 345v7M470 327.5h7M473.5 324v7M471 331.5h7M474.5 328v7M471 332.5h7M474.5 329v7M471 342.5h7M474.5 339v7M471 315.5h7M474.5 312v7M471 330.5h7M474.5 327v7M471 340.5h7M474.5 337v7M471 328.5h7M474.5 325v7M472 332.5h7M475.5 329v7M472 340.5h7M475.5 337v7M472 319.5h7M475.5 316v7M472 337.5h7M475.5 334v7M472 335.5h7M475.5 332v7M472 353.5h7M475.5 350v7M472 324.5h7M475.5 321v7M472 347.5h7M475.5 344v7M473 340.5h7M476.5 337v7M473 339.5h7M476.5 336v7M473 348.5h7M476.5 345v7M473 321.5h7M476.5 318v7M473 348.5h7M476.5 345v7M473 349.5h7M476.5 346v7M473 347.5h7M476.5 344v7M474 348.5h7M477.5 345v7M474 347.5h7M477.5 344v7M474 336.5h7M477.5 333v7M474 344.5h7M477.5 341v7M474 345.5h7M477.5 342v7M474 346.5h7M477.5 343v7M474 352.5h7M477.5 349v7M474 348.5h7M477.5 345v7M475 355.5h7M478.5 352v7M475 363.5h7M478.5 360v7M475 335.5h7M478.5 332v7M475 352.5h7M478.5 349v7M475 337.5h7M478.5 334v7M475 330.5h7M478.5 327v7M475 345.5h7M478.5 342v7M476 346.5h7M479.5 343v7M476 348.5h7M479.5 345v7M476 344.5h7M479.5 341v7M476 328.5h7M479.5 325v7M476 357.5h7M479.5 354v7M476 349.5h7M479.5 346v7M476 347.5h7M479.5 344v7M476 341.5h7M479.5 338v7M477 348.5h7M480.5 345v7M477 345.5h7M480.5 342v7M477 361.5h7M480.5 358v7M477 350.5h7M480.5 347v7M477 336.5h7M480.5 333v7M477 361.5h7M480.5 358v7M477 359.5h7M480.5 356v7M478 355.5h7M481.5 352v7M478 352.5h7M481.5 349v7M478 354.5h7M481.5 351v7M478 363.5h7M481.5 360v7M478 348.5h7M481.5 345v7M478 362.5h7M481.5 359v7M478 350.5h7M481.5 347v7M478 360.5h7M481.5 357v7M479 364.5h7M482.5 361v7M479 352.5h7M482.5 349v7M479 356.5h7M482.5 353v7M479 359.5h7M482.5 356v7M479 362.5h7M482.5 359v7M479 365.5h7M482.5 362v7M479 355.5h7M482.5 352v7M480 366.5h7M483.5 363v7M480 365.5h7M483.5 362v7M480 364.5h7M483.5 361v7M480 351.5h7M483.5 348v7M480 347.5h7M483.5 344v7M480 360.5h7M483.5 357v7M480 359.5h7M483.5 356v7M480 362.5h7M483.5 359v7M481 365.5h7M484.5 362v7M481 354.5h7M484.5 351v7M481 363.5h7M484.5 360v7M481 382.5h7M484.5 379v7M481 377.5h7M484.5 374v7M481 359.5h7M484.5 356v7M481 361.5h7M484.5 358v7M482 375.5h7M485.5 372v7M482 374.5h7M485.5 371v7M482 365.5h7M485.5 362v7M482 364.5h7M485.5 361v7M482 373.5h7M485.5 370v7M482 369.5h7M485.5 366v7M482 370.5h7M485.5 367v7M482 372.5h7M485.5 369v7M483 375.5h7M486.5 372v7M483 368.5h7M486.5 365v7M483 359.5h7M486.5 356v7M483 378.5h7M486.5 375v7M483 367.5h7M486.5 364v7M483 376.5h7M486.5 373v7M483 375.5h7M486.5 372v7M484 382.5h7M487.5 379v7M484 363.5h7M487.5 360v7M484 376.5h7M487.5 373v7M484 362.5h7M487.5 359v7M484 383.5h7M487.5 380v7M484 376.5h7M487.5 373v7M484 379.5h7M487.5 376v7M484 374.5h7M487.5 371v7M485 375.5h7M488.5 372v7M485 375.5h7M488.5 372v7M485 368.5h7M488.5 365v7M485 371.5h7M488.5 368v7M485 381.5h7M488.5 378v7M485 379.5h7M488.5 376v7M485 379.5h7M488.5 376v7M486 384.5h7M489.5 381v7M486 382.5h7M489.5 379v7M486 384.5h7M489.5 381v7M486 381.5h7M489.5 378v7M486 384.5h7M489.5 381v7M486 379.5h7M489.5 376v7M486 363.5h7M489.5 360v7M486 378.5h7M489.5 375v7M487 390.5h7M490.5 387v7M487 382.5h7M490.5 379v7M487 382.5h7M490.5 379v7M487 379.5h7M490.5 376v7M487 386.5h7M490.5 383v7M487 380.5h7M490.5 377v7M487 374.5h7M490.5 371v7M488 383.5h7M491.5 380v7M488 387.5h7M491.5 384v7M488 382.5h7M491.5 379v7M488 380.5h7M491.5 377v7M488 381.5h7M491.5 378v7M488 382.5h7M491.5 379v7M488 384.5h7M491.5 381v7M488 382.5h7M491.5 379v7M489 385.5h7M492.5 382v7M489 392.5h7M492.5 389v7M489 380.5h7M492.5 377v7M489 376.5h7M492.5 373v7M489 390.5h7M492.5 387v7M489 380.5h7M492.5 377v7M489 381.5h7M492.5 378v7M490 386.5h7M493.5 383v7M490 392.5h7M493.5 389v7M490 393.5h7M493.5 390v7M490 396.5h7M493.5 393v7M490 386.5h7M493.5 383v7M490 380.5h7M493.5 377v7M490 400.5h7M493.5 397v7M490 386.5h7M493.5 383v7M491 393.5h7M494.5 390v7M491 387.5h7M494.5 384v7M491 386.5h7M494.5 383v7M491 390.5h7M494.5 387v7M491 392.5h7M494.5 389v7M491 393.5h7M494.5 390v7M491 389.5h7M494.5 386v7M492 389.5h7M495.5 386v7M492 384.5h7M495.5 381v7M492 394.5h7M495.5 391v7M492 388.5h7M495.5 385v7M492 390.5h7M495.5 387v7M492 392.5h7M495.5 389v7M492 390.5h7M495.5 387v7M492 389.5h7M495.5 386v7M493 382.5h7M496.5 379v7M493 390.5h7M496.5 387v7M493 392.5h7M496.5 389v7M493 390.5h7M496.5 387v7M493 390.5h7M496.5 387v7M493 394.5h7M496.5 391v7M493 391.5h7M496.5 388v7M494 393.5h7M497.5 390v7M494 390.5h7M497.5 387v7M494 387.5h7M497.5 384v7M494 389.5h7M497.5 386v7M494 392.5h7M497.5 389v7M494 386.5h7M497.5 383v7M494 402.5h7M497.5 399v7M494 387.5h7M497.5 384v7M495 386.5h7M498.5 383v7M495 394.5h7M498.5 391v7M495 395.5h7M498.5 392v7M495 394.5h7M498.5 391v7M495 388.5h7M498.5 385v7M495 395.5h7M498.5 392v7M495 382.5h7M498.5 379v7M496 395.5h7M499.5 392v7M496 394.5h7M499.5 391v7M496 397.5h7M499.5 394v7M496 396.5h7M499.5 393v7M496 394.5h7M499.5 391v7M496 394.5h7M499.5 391v7M496 395.5h7M499.5 392v7M496 398.5h7M499.5 395v7M497 393.5h7M500.5 390v7M497 394.5h7M500.5 391v7M497 399.5h7M500.5 396v7M497 390.5h7M500.5 387v7M497 396.5h7M500.5 393v7M497 394.5h7M500.5 391v7M497 398.5h7M500.5 395v7M498 391.5h7M501.5 388v7M498 399.5h7M501.5 396v7M498 395.5h7M501.5 392v7M498 392.5h7M501.5 389v7M498 394.5h7M501.5 391v7M498 393.5h7M501.5 390v7M498 394.5h7M501.5 391v7M498 402.5h7M501.5 399v7M499 394.5h7M502.5 391v7M499 394.5h7M502.5 391v7M499 399.5h7M502.5 396v7M499 405.5h7M502.5 402v7M499 394.5h7M502.5 391v7M499 395.5h7M502.5 392v7M499 398.5h7M502.5 395v7M500 394.5h7M503.5 391v7M500 398.5h7M503.5 395v7M500 398.5h7M503.5 395v7M500 398.5h7M503.5 395v7M500 392.5h7M503.5 389v7M500 394.5h7M503.5 391v7M500 401.5h7M503.5 398v7M500 404.5h7M503.5 401v7M501 396.5h7M504.5 393v7M501 402.5h7M504.5 399v7M501 393.5h7M504.5 390v7M501 398.5h7M504.5 395v7M501 398.5h7M504.5 395v7M501 397.5h7M504.5 394v7M501 394.5h7M504.5 391v7M502 397.5h7M505.5 394v7M502 403.5h7M505.5 400v7M502 402.5h7M505.5 399v7M502 393.5h7M505.5 390v7M502 397.5h7M505.5 394v7M502 398.5h7M505.5 395v7M502 398.5h7M505.5 395v7M502 403.5h7M505.5 400v7M503 396.5h7M506.5 393v7M503 392.5h7M506.5 389v7M503 397.5h7M506.5 394v7M503 398.5h7M506.5 395v7M503 402.5h7M506.5 399v7M503 396.5h7M506.5 393v7M503 398.5h7M506.5 395v7M504 388.5h7M507.5 385v7M504 403.5h7M507.5 400v7M504 399.5h7M507.5 396v7M504 397.5h7M507.5 394v7M504 396.5h7M507.5 393v7M504 398.5h7M507.5 395v7M504 398.5h7M507.5 395v7M504 401.5h7M507.5 398v7M505 402.5h7M508.5 399v7M505 404.5h7M508.5 401v7M505 398.5h7M508.5 395v7M505 398.5h7M508.5 395v7M505 402.5h7M508.5 399v7M505 398.5h7M508.5 395v7M505 402.5h7M508.5 399v7M506 406.5h7M509.5 403v7M506 398.5h7M509.5 395v7M506 406.5h7M509.5 403v7M506 392.5h7M509.5 389v7M506 406.5h7M509.5 403v7M506 399.5h7M509.5 396v7M506 404.5h7M509.5 401v7M506 403.5h7M509.5 400v7M507 403.5h7M510.5 400v7M507 398.5h7M510.5 395v7M507 397.5h7M510.5 394v7M507 400.5h7M510.5 397v7M507 400.5h7M510.5 397v7M507 405.5h7M510.5 402v7M507 404.5h7M510.5 401v7M508 402.5h7M511.5 399v7M508 406.5h7M511.5 403v7M508 411.5h7M511.5 408v7M508 400.5h7M511.5 397v7M508 401.5h7M511.5 398v7M508 406.5h7M511.5 403v7M508 395.5h7M511.5 392v7M508 408.5h7M511.5 405v7M509 402.5h7M512.5 399v7M509 402.5h7M512.5 399v7M509 390.5h7M512.5 387v7M509 405.5h7M512.5 402v7M509 406.5h7M512.5 403v7M509 404.5h7M512.5 401v7M509 406.5h7M512.5 403v7M510 406.5h7M513.5 403v7M510 405.5h7M513.5 402v7M510 402.5h7M513.5 399v7M510 398.5h7M513.5 395v7M510 407.5h7M513.5 404v7M510 403.5h7M513.5 400v7M510 404.5h7M513.5 401v7M510 401.5h7M513.5 398v7M511 405.5h7M514.5 402v7M511 398.5h7M514.5 395v7M511 404.5h7M514.5 401v7M511 403.5h7M514.5 400v7M511 398.5h7M514.5 395v7M511 401.5h7M514.5 398v7M511 400.5h7M514.5 397v7M512 399.5h7M515.5 396v7M512 406.5h7M515.5 403v7M512 399.5h7M515.5 396v7M512 397.5h7M515.5 394v7M512 397.5h7M515.5 394v7M512 396.5h7M515.5 393v7M512 403.5h7M515.5 400v7M512 402.5h7M515.5 399v7M513 402.5h7M516.5 399v7M513 406.5h7M516.5 403v7M513 407.5h7M516.5 404v7M513 402.5h7M516.5 399v7M513 406.5h7M516.5 403v7M513 413.5h7M516.5 410v7M513 400.5h7M516.5 397v7M514 404.5h7M517.5 401v7M514 407.5h7M517.5 404v7M514 401.5h7M517.5 398v7M514 406.5h7M517.5 403v7M514 410.5h7M517.5 407v7M514 403.5h7M517.5 400v7M514 406.5h7M517.5 403v7M514 410.5h7M517.5 407v7M515 403.5h7M518.5 400v7M515 402.5h7M518.5 399v7M515 403.5h7M518.5 400v7M515 408.5h7M518.5 405v7M515 409.5h7M518.5 406v7M515 398.5h7M518.5 395v7M515 404.5h7M518.5 401v7M516 405.5h7M519.5 402v7M516 402.5h7M519.5 399v7M516 404.5h7M519.5 401v7M516 402.5h7M519.5 399v7M516 406.5h7M519.5 403v7M516 403.5h7M519.5 400v7M516 402.5h7M519.5 399v7M516 404.5h7M519.5 401v7M517 402.5h7M520.5 399v7M517 410.5h7M520.5 407v7M517 409.5h7M520.5 406v7M517 409.5h7M520.5 406v7M517 405.5h7M520.5 402v7M517 402.5h7M520.5 399v7M517 407.5h7M520.5 404v7M518 408.5h7M521.5 405v7M518 409.5h7M521.5 406v7M518 407.5h7M521.5 404v7M518 403.5h7M521.5 400v7M518 403.5h7M521.5 400v7M518 406.5h7M521.5 403v7M518 413.5h7M521.5 410v7M518 406.5h7M521.5 403v7M519 404.5h7M522.5 401v7M519 406.5h7M522.5 403v7M519 410.5h7M522.5 407v7M519 403.5h7M522.5 400v7M519 406.5h7M522.5 403v7M519 408.5h7M522.5 405v7M519 409.5h7M522.5 406v7M520 411.5h7M523.5 408v7M520 406.5h7M523.5 403v7M520 399.5h7M523.5 396v7M520 409.5h7M523.5 406v7M520 403.5h7M523.5 400v7M520 409.5h7M523.5 406v7M520 411.5h7M523.5 408v7M520 410.5h7M523.5 407v7M521 408.5h7M524.5 405v7M521 404.5h7M524.5 401v7M521 403.5h7M524.5 400v7M521 405.5h7M524.5 402v7M521 406.5h7M524.5 403v7M521 406.5h7M524.5 403v7M521 401.5h7M524.5 398v7M522 408.5h7M525.5 405v7M522 406.5h7M525.5 403v7M522 404.5h7M525.5 401v7M522 406.5h7M525.5 403v7M522 409.5h7M525.5 406v7M522 405.5h7M525.5 402v7M522 407.5h7M525.5 404v7M522 408.5h7M525.5 405v7M523 408.5h7M526.5 405v7M523 399.5h7M526.5 396v7M523 407.5h7M526.5 404v7M523 408.5h7M526.5 405v7M523 410.5h7M526.5 407v7M523 408.5h7M526.5 405v7M523 405.5h7M526.5 402v7M524 409.5h7M527.5 406v7M524 410.5h7M527.5 407v7M524 413.5h7M527.5 410v7M524 403.5h7M527.5 400v7M524 412.5h7M527.5 409v7M524 405.5h7M527.5 402v7M524 410.5h7M527.5 407v7M524 400.5h7M527.5 397v7M525 413.5h7M528.5 410v7M525 412.5h7M528.5 409v7M525 409.5h7M528.5 406v7M525 406.5h7M528.5 403v7M525 409.5h7M528.5 406v7M525 409.5h7M528.5 406v7M525 410.5h7M528.5 407v7M526 402.5h7M529.5 399v7M526 404.5h7M529.5 401v7M526 406.5h7M529.5 403v7M526 410.5h7M529.5 407v7M526 402.5h7M529.5 399v7M526 410.5h7M529.5 407v7M526 404.5h7M529.5 401v7M526 408.5h7M529.5 405v7M527 405.5h7M530.5 402v7M527 406.5h7M530.5 403v7M527 410.5h7M530.5 407v7M527 406.5h7M530.5 403v7M527 406.5h7M530.5 403v7M527 405.5h7M530.5 402v7M527 410.5h7M530.5 407v7M528 413.5h7M531.5 410v7M528 409.5h7M531.5 406v7M528 405.5h7M531.5 402v7M528 409.5h7M531.5 406v7M528 407.5h7M531.5 404v7M528 411.5h7M531.5 408v7M528 406.5h7M531.5 403v7M528 402.5h7M531.5 399v7M529 409.5h7M532.5 406v7M529 400.5h7M532.5 397v7M529 412.5h7M532.5 409v7M529 406.5h7M532.5 403v7M529 409.5h7M532.5 406v7M529 408.5h7M532.5 405v7M529 406.5h7M532.5 403v7M530 407.5h7M533.5 404v7M530 407.5h7M533.5 404v7M530 412.5h7M533.5 409v7M530 410.5h7M533.5 407v7M530 410.5h7M533.5 407v7M530 405.5h7M533.5 402v7M530 403.5h7M533.5 400v7M530 407.5h7M533.5 404v7M531 406.5h7M534.5 403v7M531 410.5h7M534.5 407v7M531 406.5h7M534.5 403v7M531 411.5h7M534.5 408v7M531 406.5h7M534.5 403v7M531 410.5h7M534.5 407v7M531 410.5h7M534.5 407v7M532 414.5h7M535.5 411v7M532 408.5h7M535.5 405v7M532 401.5h7M535.5 398v7M532 410.5h7M535.5 407v7M532 405.5h7M535.5 402v7M532 413.5h7M535.5 410v7M532 413.5h7M535.5 410v7M532 406.5h7M535.5 403v7M533 409.5h7M536.5 406v7M533 408.5h7M536.5 405v7M533 407.5h7M536.5 404v7M533 403.5h7M536.5 400v7M533 406.5h7M536.5 403v7M533 409.5h7M536.5 406v7M533 414.5h7M536.5 411v7M534 406.5h7M537.5 403v7M534 409.5h7M537.5 406v7M534 403.5h7M537.5 400v7M534 407.5h7M537.5 404v7M534 412.5h7M537.5 409v7M534 408.5h7M537.5 405v7M534 409.5h7M537.5 406v7M534 410.5h7M537.5 407v7M535 413.5h7M538.5 410v7M535 410.5h7M538.5 407v7M535 410.5h7M538.5 407v7M535 412.5h7M538.5 409v7M535 411.5h7M538.5 408v7M535 409.5h7M538.5 406v7M535 406.5h7M538.5 403v7M536 412.5h7M539.5 409v7M536 409.5h7M539.5 406v7M536 408.5h7M539.5 405v7M536 406.5h7M539.5 403v7M536 409.5h7M539.5 406v7M536 407.5h7M539.5 404v7M536 406.5h7M539.5 403v7M536 411.5h7M539.5 408v7M537 409.5h7M540.5 406v7M537 409.5h7M540.5 406v7M537 411.5h7M540.5 408v7M537 408.5h7M540.5 405v7M537 408.5h7M540.5 405v7M537 413.5h7M540.5 410v7M537 413.5h7M540.5 410v7M538 415.5h7M541.5 412v7M538 414.5h7M541.5 411v7M538 409.5h7M541.5 406v7M538 409.5h7M541.5 406v7M538 410.5h7M541.5 407v7M538 413.5h7M541.5 410v7M538 413.5h7M541.5 410v7M538 410.5h7M541.5 407v7M539 411.5h7M542.5 408v7M539 410.5h7M542.5 407v7M539 407.5h7M542.5 404v7M539 410.5h7M542.5 407v7M539 408.5h7M542.5 405v7M539 402.5h7M542.5 399v7M539 410.5h7M542.5 407v7M540 408.5h7M543.5 405v7M540 409.5h7M543.5 406v7M540 408.5h7M543.5 405v7M540 406.5h7M543.5 403v7M540 411.5h7M543.5 408v7M540 409.5h7M543.5 406v7M540 409.5h7M543.5 406v7M540 415.5h7M543.5 412v7M541 410.5h7M544.5 407v7M541 408.5h7M544.5 405v7M541 411.5h7M544.5 408v7M541 411.5h7M544.5 408v7M541 408.5h7M544.5 405v7M541 407.5h7M544.5 404v7M541 406.5h7M544.5 403v7M542 408.5h7M545.5 405v7M542 415.5h7M545.5 412v7M542 413.5h7M545.5 410v7M542 412.5h7M545.5 409v7M542 412.5h7M545.5 409v7M542 409.5h7M545.5 406v7M542 407.5h7M545.5 404v7M542 412.5h7M545.5 409v7M543 415.5h7M546.5 412v7M543 413.5h7M546.5 410v7M543 413.5h7M546.5 410v7M543 414.5h7M546.5 411v7M543 409.5h7M546.5 406v7M543 410.5h7M546.5 407v7M543 411.5h7M546.5 408v7M544 410.5h7M547.5 407v7M544 410.5h7M547.5 407v7M544 410.5h7M547.5 407v7M544 410.5h7M547.5 407v7M544 411.5h7M547.5 408v7M544 410.5h7M547.5 407v7M544 413.5h7M547.5 410v7M544 406.5h7M547.5 403v7M545 413.5h7M548.5 410v7M545 411.5h7M548.5 408v7M545 409.5h7M548.5 406v7M545 409.5h7M548.5 406v7M545 413.5h7M548.5 410v7M545 411.5h7M548.5 408v7M545 411.5h7M548.5 408v7M546 410.5h7M549.5 407v7M546 411.5h7M549.5 408v7M546 408.5h7M549.5 405v7M546 416.5h7M549.5 413v7M546 411.5h7M549.5 408v7M546 405.5h7M549.5 402v7M546 414.5h7M549.5 411v7M546 414.5h7M549.5 411v7M547 411.5h7M550.5 408v7M547 409.5h7M550.5 406v7M547 409.5h7M550.5 406v7M547 410.5h7M550.5 407v7M547 412.5h7M550.5 409v7M547 414.5h7M550.5 411v7M547 412.5h7M550.5 409v7M548 413.5h7M551.5 410v7M548 405.5h7M551.5 402v7M548 409.5h7M551.5 406v7M548 415.5h7M551.5 412v7M548 410.5h7M551.5 407v7M548 413.5h7M551.5 410v7M548 413.5h7M551.5 410v7M548 414.5h7M551.5 411v7M549 411.5h7M552.5 408v7M549 409.5h7M552.5 406v7M549 409.5h7M552.5 406v7M549 409.5h7M552.5 406v7M549 408.5h7M552.5 405v7M549 410.5h7M552.5 407v7M549 413.5h7M552.5 410v7M550 408.5h7M553.5 405v7M550 405.5h7M553.5 402v7M550 410.5h7M553.5 407v7M550 412.5h7M553.5 409v7M550 413.5h7M553.5 410v7M550 413.5h7M553.5 410v7M550 415.5h7M553.5 412v7M550 413.5h7M553.5 410v7M551 414.5h7M554.5 411v7M551 413.5h7M554.5 410v7M551 413.5h7M554.5 410v7M551 413.5h7M554.5 410v7M551 411.5h7M554.5 408v7M551 413.5h7M554.5 410v7M551 410.5h7M554.5 407v7M552 413.5h7M555.5 410v7M552 413.5h7M555.5 410v7M552 413.5h7M555.5 410v7M552 412.5h7M555.5 409v7M552 409.5h7M555.5 406v7M552 411.5h7M555.5 408v7M552 412.5h7M555.5 409v7M552 413.5h7M555.5 410v7M553 410.5h7M556.5 407v7M553 415.5h7M556.5 412v7M553 402.5h7M556.5 399v7M553 413.5h7M556.5 410v7M553 414.5h7M556.5 411v7M553 411.5h7M556.5 408v7M553 409.5h7M556.5 406v7M554 408.5h7M557.5 405v7M554 413.5h7M557.5 410v7M554 410.5h7M557.5 407v7M554 412.5h7M557.5 409v7M554 409.5h7M557.5 406v7M554 414.5h7M557.5 411v7M554 407.5h7M557.5 404v7M554 407.5h7M557.5 404v7M555 414.5h7M558.5 411v7M555 412.5h7M558.5 409v7M555 409.5h7M558.5 406v7M555 409.5h7M558.5 406v7M555 410.5h7M558.5 407v7M555 414.5h7M558.5 411v7M555 409.5h7M558.5 406v7M556 412.5h7M559.5 409v7M556 415.5h7M559.5 412v7M556 408.5h7M559.5 405v7M556 413.5h7M559.5 410v7M556 412.5h7M559.5 409v7M556 413.5h7M559.5 410v7M556 410.5h7M559.5 407v7M556 412.5h7M559.5 409v7M557 413.5h7M560.5 410v7M557 409.5h7M560.5 406v7M557 409.5h7M560.5 406v7M557 411.5h7M560.5 408v7M557 410.5h7M560.5 407v7M557 408.5h7M560.5 405v7M557 411.5h7M560.5 408v7M558 416.5h7M561.5 413v7M558 410.5h7M561.5 407v7M558 412.5h7M561.5 409v7M558 412.5h7M561.5 409v7M558 409.5h7M561.5 406v7M558 413.5h7M561.5 410v7M558 407.5h7M561.5 404v7M558 413.5h7M561.5 410v7M559 409.5h7M562.5 406v7M559 414.5h7M562.5 411v7M559 413.5h7M562.5 410v7M559 414.5h7M562.5 411v7M559 411.5h7M562.5 408v7M559 411.5h7M562.5 408v7M559 415.5h7M562.5 412v7M560 411.5h7M563.5 408v7M560 412.5h7M563.5 409v7M560 413.5h7M563.5 410v7M560 412.5h7M563.5 409v7M560 408.5h7M563.5 405v7M560 413.5h7M563.5 410v7M560 411.5h7M563.5 408v7M560 412.5h7M563.5 409v7M561 414.5h7M564.5 411v7M561 413.5h7M564.5 410v7M561 413.5h7M564.5 410v7M561 408.5h7M564.5 405v7M561 413.5h7M564.5 410v7M561 409.5h7M564.5 406v7M561 417.5h7M564.5 414v7M562 410.5h7M565.5 407v7M562 413.5h7M565.5 410v7M562 415.5h7M565.5 412v7M562 413.5h7M565.5 410v7M562 413.5h7M565.5 410v7M562 409.5h7M565.5 406v7M562 412.5h7M565.5 409v7M562 412.5h7M565.5 409v7M563 414.5h7M566.5 411v7M563 412.5h7M566.5 409v7M563 411.5h7M566.5 408v7M563 416.5h7M566.5 413v7M563 413.5h7M566.5 410v7M563 414.5h7M566.5 411v7M563 413.5h7M566.5 410v7M564 411.5h7M567.5 408v7M564 412.5h7M567.5 409v7M564 410.5h7M567.5 407v7M564 413.5h7M567.5 410v7M564 416.5h7M567.5 413v7M564 411.5h7M567.5 408v7M564 413.5h7M567.5 410v7M564 413.5h7M567.5 410v7M565 411.5h7M568.5 408v7M565 414.5h7M568.5 411v7M565 413.5h7M568.5 410v7M565 409.5h7M568.5 406v7M565 409.5h7M568.5 406v7M565 412.5h7M568.5 409v7M565 411.5h7M568.5 408v7M566 410.5h7M569.5 407v7M566 409.5h7M569.5 406v7M566 412.5h7M569.5 409v7M566 414.5h7M569.5 411v7M566 417.5h7M569.5 414v7M566 410.5h7M569.5 407v7M566 412.5h7M569.5 409v7M566 411.5h7M569.5 408v7M567 410.5h7M570.5 407v7M567 415.5h7M570.5 412v7M567 412.5h7M570.5 409v7M567 414.5h7M570.5 411v7M567 414.5h7M570.5 411v7M567 409.5h7M570.5 406v7M567 413.5h7M570.5 410v7M568 415.5h7M571.5 412v7M568 413.5h7M571.5 410v7M568 410.5h7M571.5 407v7M568 410.5h7M571.5 407v7M568 410.5h7M571.5 407v7M568 413.5h7M571.5 410v7M568 411.5h7M571.5 408v7M568 412.5h7M571.5 409v7M569 412.5h7M572.5 409v7M569 408.5h7M572.5 405v7M569 410.5h7M572.5 407v7M569 415.5h7M572.5 412v7M569 410.5h7M572.5 407v7M569 415.5h7M572.5 412v7M569 413.5h7M572.5 410v7M570 409.5h7M573.5 406v7M570 409.5h7M573.5 406v7M570 414.5h7M573.5 411v7M570 413.5h7M573.5 410v7M570 410.5h7M573.5 407v7M570 414.5h7M573.5 411v7M570 412.5h7M573.5 409v7M570 409.5h7M573.5 406v7M571 411.5h7M574.5 408v7M571 410.5h7M574.5 407v7M571 415.5h7M574.5 412v7M571 416.5h7M574.5 413v7M571 413.5h7M574.5 410v7M571 412.5h7M574.5 409v7M571 413.5h7M574.5 410v7M572 413.5h7M575.5 410v7M572 408.5h7M575.5 405v7M572 414.5h7M575.5 411v7M572 412.5h7M575.5 409v7M572 410.5h7M575.5 407v7M572 413.5h7M575.5 410v7M572 412.5h7M575.5 409v7M572 409.5h7M575.5 406v7M573 411.5h7M576.5 408v7M573 415.5h7M576.5 412v7M573 411.5h7M576.5 408v7M573 413.5h7M576.5 410v7M573 415.5h7M576.5 412v7M573 413.5h7M576.5 410v7M573 412.5h7M576.5 409v7M574 413.5h7M577.5 410v7M574 413.5h7M577.5 410v7M574 412.5h7M577.5 409v7M574 415.5h7M577.5 412v7M574 411.5h7M577.5 408v7M574 413.5h7M577.5 410v7M574 413.5h7M577.5 410v7M574 412.5h7M577.5 409v7M575 412.5h7M578.5 409v7M575 413.5h7M578.5 410v7M575 411.5h7M578.5 408v7M575 417.5h7M578.5 414v7M575 414.5h7M578.5 411v7M575 413.5h7M578.5 410v7M575 413.5h7M578.5 410v7M576 413.5h7M579.5 410v7M576 413.5h7M579.5 410v7M576 413.5h7M579.5 410v7M576 414.5h7M579.5 411v7M576 411.5h7M579.5 408v7M576 415.5h7M579.5 412v7M576 413.5h7M579.5 410v7M576 413.5h7M579.5 410v7M577 413.5h7M580.5 410v7M577 416.5h7M580.5 413v7M577 413.5h7M580.5 410v7M577 413.5h7M580.5 410v7M577 411.5h7M580.5 408v7M577 412.5h7M580.5 409v7M577 414.5h7M580.5 411v7M578 413.5h7M581.5 410v7M578 413.5h7M581.5 410v7M578 411.5h7M581.5 408v7M578 414.5h7M581.5 411v7M578 413.5h7M581.5 410v7M578 415.5h7M581.5 412v7M578 414.5h7M581.5 411v7M578 415.5h7M581.5 412v7M579 414.5h7M582.5 411v7M579 410.5h7M582.5 407v7M579 409.5h7M582.5 406v7M579 412.5h7M582.5 409v7M579 411.5h7M582.5 408v7M579 412.5h7M582.5 409v7M579 412.5h7M582.5 409v7M580 413.5h7M583.5 410v7M580 411.5h7M583.5 408v7M580 412.5h7M583.5 409v7M580 413.5h7M583.5 410v7M580 414.5h7M583.5 411v7M580 410.5h7M583.5 407v7M580 415.5h7M583.5 412v7M580 415.5h7M583.5 412v7M581 413.5h7M584.5 410v7M581 409.5h7M584.5 406v7M581 414.5h7M584.5 411v7M581 415.5h7M584.5 412v7M581 414.5h7M584.5 411v7M581 411.5h7M584.5 408v7M581 417.5h7M584.5 414v7M582 416.5h7M585.5 413v7M582 409.5h7M585.5 406v7M582 414.5h7M585.5 411v7M582 416.5h7M585.5 413v7M582 411.5h7M585.5 408v7M582 413.5h7M585.5 410v7M582 411.5h7M585.5 408v7M582 417.5h7M585.5 414v7M583 411.5h7M586.5 408v7M583 412.5h7M586.5 409v7M583 411.5h7M586.5 408v7M583 412.5h7M586.5 409v7M583 411.5h7M586.5 408v7M583 409.5h7M586.5 406v7M583 415.5h7M586.5 412v7M584 412.5h7M587.5 409v7M584 411.5h7M587.5 408v7M584 415.5h7M587.5 412v7M584 415.5h7M587.5 412v7M584 413.5h7M587.5 410v7M584 414.5h7M587.5 411v7M584 413.5h7M587.5 410v7M584 417.5h7M587.5 414v7M585 409.5h7M588.5 406v7M585 413.5h7M588.5 410v7M585 412.5h7M588.5 409v7M585 411.5h7M588.5 408v7M585 410.5h7M588.5 407v7M585 413.5h7M588.5 410v7M585 414.5h7M588.5 411v7M586 414.5h7M589.5 411v7M586 414.5h7M589.5 411v7M586 415.5h7M589.5 412v7M586 414.5h7M589.5 411v7M586 415.5h7M589.5 412v7M586 415.5h7M589.5 412v7M586 409.5h7M589.5 406v7M586 407.5h7M589.5 404v7M587 414.5h7M590.5 411v7M587 415.5h7M590.5 412v7M587 413.5h7M590.5 410v7M587 408.5h7M590.5 405v7M587 415.5h7M590.5 412v7M587 413.5h7M590.5 410v7M587 411.5h7M590.5 408v7M588 413.5h7M591.5 410v7M588 415.5h7M591.5 412v7M588 412.5h7M591.5 409v7M588 413.5h7M591.5 410v7M588 413.5h7M591.5 410v7M588 412.5h7M591.5 409v7M588 415.5h7M591.5 412v7M588 414.5h7M591.5 411v7M589 410.5h7M592.5 407v7M589 415.5h7M592.5 412v7M589 417.5h7M592.5 414v7M589 416.5h7M592.5 413v7M589 406.5h7M592.5 403v7M589 413.5h7M592.5 410v7M589 412.5h7M592.5 409v7M590 413.5h7M593.5 410v7M590 413.5h7M593.5 410v7M590 417.5h7M593.5 414v7M590 417.5h7M593.5 414v7M590 411.5h7M593.5 408v7M590 415.5h7M593.5 412v7M590 416.5h7M593.5 413v7M590 417.5h7M593.5 414v7M591 410.5h7M594.5 407v7M591 410.5h7M594.5 407v7M591 413.5h7M594.5 410v7M591 409.5h7M594.5 406v7M591 416.5h7M594.5 413v7M591 413.5h7M594.5 410v7M591 412.5h7M594.5 409v7M592 412.5h7M595.5 409v7M592 410.5h7M595.5 407v7M592 414.5h7M595.5 411v7M592 413.5h7M595.5 410v7M592 409.5h7M595.5 406v7M592 414.5h7M595.5 411v7M592 414.5h7M595.5 411v7M592 413.5h7M595.5 410v7M593 414.5h7M596.5 411v7M593 412.5h7M596.5 409v7M593 415.5h7M596.5 412v7M593 413.5h7M596.5 410v7M593 414.5h7M596.5 411v7M593 417.5h7M596.5 414v7M593 413.5h7M596.5 410v7M594 415.5h7M597.5 412v7M594 409.5h7M597.5 406v7M594 413.5h7M597.5 410v7M594 414.5h7M597.5 411v7M594 417.5h7M597.5 414v7M594 413.5h7M597.5 410v7M594 412.5h7M597.5 409v7M594 416.5h7M597.5 413v7M595 414.5h7M598.5 411v7M595 417.5h7M598.5 414v7M595 414.5h7M598.5 411v7M595 413.5h7M598.5 410v7M595 413.5h7M598.5 410v7M595 412.5h7M598.5 409v7M595 410.5h7M598.5 407v7M596 415.5h7M599.5 412v7M596 414.5h7M599.5 411v7M596 413.5h7M599.5 410v7M596 415.5h7M599.5 412v7M596 411.5h7M599.5 408v7M596 417.5h7M599.5 414v7M596 413.5h7M599.5 410v7M596 413.5h7M599.5 410v7M597 414.5h7M600.5 411v7M597 415.5h7M600.5 412v7M597 413.5h7M600.5 410v7M597 411.5h7M600.5 408v7M597 414.5h7M600.5 411v7M597 415.5h7M600.5 412v7M597 415.5h7M600.5 412v7M598 412.5h7M601.5 409v7M598 413.5h7M601.5 410v7M598 411.5h7M601.5 408v7M598 413.5h7M601.5 410v7M598 415.5h7M601.5 412v7M598 413.5h7M601.5 410v7M598 412.5h7M601.5 409v7M598 413.5h7M601.5 410v7M599 417.5h7M602.5 414v7M599 414.5h7M602.5 411v7M599 413.5h7M602.5 410v7M599 415.5h7M602.5 412v7M599 416.5h7M602.5 413v7M599 416.5h7M602.5 413v7M599 415.5h7M602.5 412v7M600 414.5h7M603.5 411v7M600 409.5h7M603.5 406v7M600 413.5h7M603.5 410v7M600 414.5h7M603.5 411v7M600 413.5h7M603.5 410v7M600 417.5h7M603.5 414v7M600 414.5h7M603.5 411v7M600 410.5h7M603.5 407v7M601 412.5h7M604.5 409v7M601 413.5h7M604.5 410v7M601 415.5h7M604.5 412v7M601 416.5h7M604.5 413v7M601 412.5h7M604.5 409v7M601 412.5h7M604.5 409v7M601 415.5h7M604.5 412v7M602 416.5h7M605.5 413v7M602 413.5h7M605.5 410v7M602 417.5h7M605.5 414v7M602 412.5h7M605.5 409v7M602 413.5h7M605.5 410v7M602 413.5h7M605.5 410v7M602 415.5h7M605.5 412v7M602 413.5h7M605.5 410v7M603 413.5h7M606.5 410v7M603 415.5h7M606.5 412v7M603 417.5h7M606.5 414v7M603 412.5h7M606.5 409v7M148 104.5h7M151.5 101v7M137 104.5h7M140.5 101v7M135 98.5h7M138.5 95v7M180 203.5h7M183.5 200v7M185 234.5h7M188.5 231v7M122 174.5h7M125.5 171v7M118 146.5h7M121.5 143v7M207 279.5h7M210.5 276v7M212 286.5h7M215.5 283v7M160 250.5h7M163.5 247v7M275 279.5h7M278.5 276v7M277 289.5h7M280.5 286v7M276 390.5h7M279.5 387v7M259 367.5h7M262.5 364v7M283 305.5h7M286.5 302v7M298 308.5h7M301.5 305v7M341 307.5h7M344.5 304v7M356 305.5h7M359.5 302v7M366 318.5h7M369.5 315v7M391 335.5h7M394.5 332v7M468 303.5h7M471.5 300v7M424 276.5h7M427.5 273v7M426 285.5h7M429.5 282v7M221 296.5h7M224.5 293v7M233 309.5h7M236.5 306v7M247 313.5h7M250.5 310v7M182 309.5h7M185.5 306v7M171 283.5h7M174.5 280v7M184 234.5h7M187.5 231v7" stroke="#f00" stroke-width="1" fill="none" shape-rendering="crispEdges"/>
<path d="M557 35.5h7M560.5 32v7" stroke="#f00" stroke-width="1" fill="none" shape-rendering="crispEdges"/>
<path d="M90.5 420v-5M90.5 22v5M147.5 420v-5M147.5 22v5M205.5 420v-5M205.5 22v5M262.5 420v-5M262.5 22v5M319.5 420v-5M319.5 22v5M377.5 420v-5M377.5 22v5M434.5 420v-5M434.5 22v5M491.5 420v-5M491.5 22v5M549.5 420v-5M549.5 22v5M606.5 420v-5M606.5 22v5M90 419.5h5M607 419.5h-5M90 340.5h5M607 340.5h-5M90 260.5h5M607 260.5h-5M90 181.5h5M607 181.5h-5M90 101.5h5M607 101.5h-5M90 22.5h5M607 22.5h-5" stroke="#000" stroke-width="1" fill="none" shape-rendering="crispEdges"/>
<rect x="90.5" y="22.5" width="516" height="397" fill="none" stroke="#000" stroke-width="1" shape-rendering="crispEdges"/>
<g><text x="90.9" y="443.3" text-anchor="middle">0</text><text x="146.9" y="443.3" text-anchor="middle">200</text><text x="204.3" y="443.3" text-anchor="middle">400</text><text x="261.6" y="443.3" text-anchor="middle">600</text><text x="318.9" y="443.3" text-anchor="middle">800</text><text x="376.3" y="443.3" text-anchor="middle">1000</text><text x="433.6" y="443.3" text-anchor="middle">1200</text><text x="490.9" y="443.3" text-anchor="middle">1400</text><text x="548.3" y="443.3" text-anchor="middle">1600</text><text x="605.6" y="443.3" text-anchor="middle">1800</text></g>
<g><text x="76.3" y="424.3" text-anchor="end">0</text><text x="75.5" y="344.9" text-anchor="end">100</text><text x="75.5" y="265.5" text-anchor="end">200</text><text x="75.5" y="186.1" text-anchor="end">300</text><text x="75.5" y="106.7" text-anchor="end">400</text><text x="75.5" y="27.3" text-anchor="end">500</text></g>
<text x="346.6" y="471" text-anchor="middle">Energie [keV]</text>
<text transform="translate(18,221) rotate(-90)" text-anchor="middle">Intenzita [<tspan dx="-2.5"> </tspan>Imp]</text>
<text x="523.2" y="40" text-anchor="end">Co</text>
</svg>
</body></html>
